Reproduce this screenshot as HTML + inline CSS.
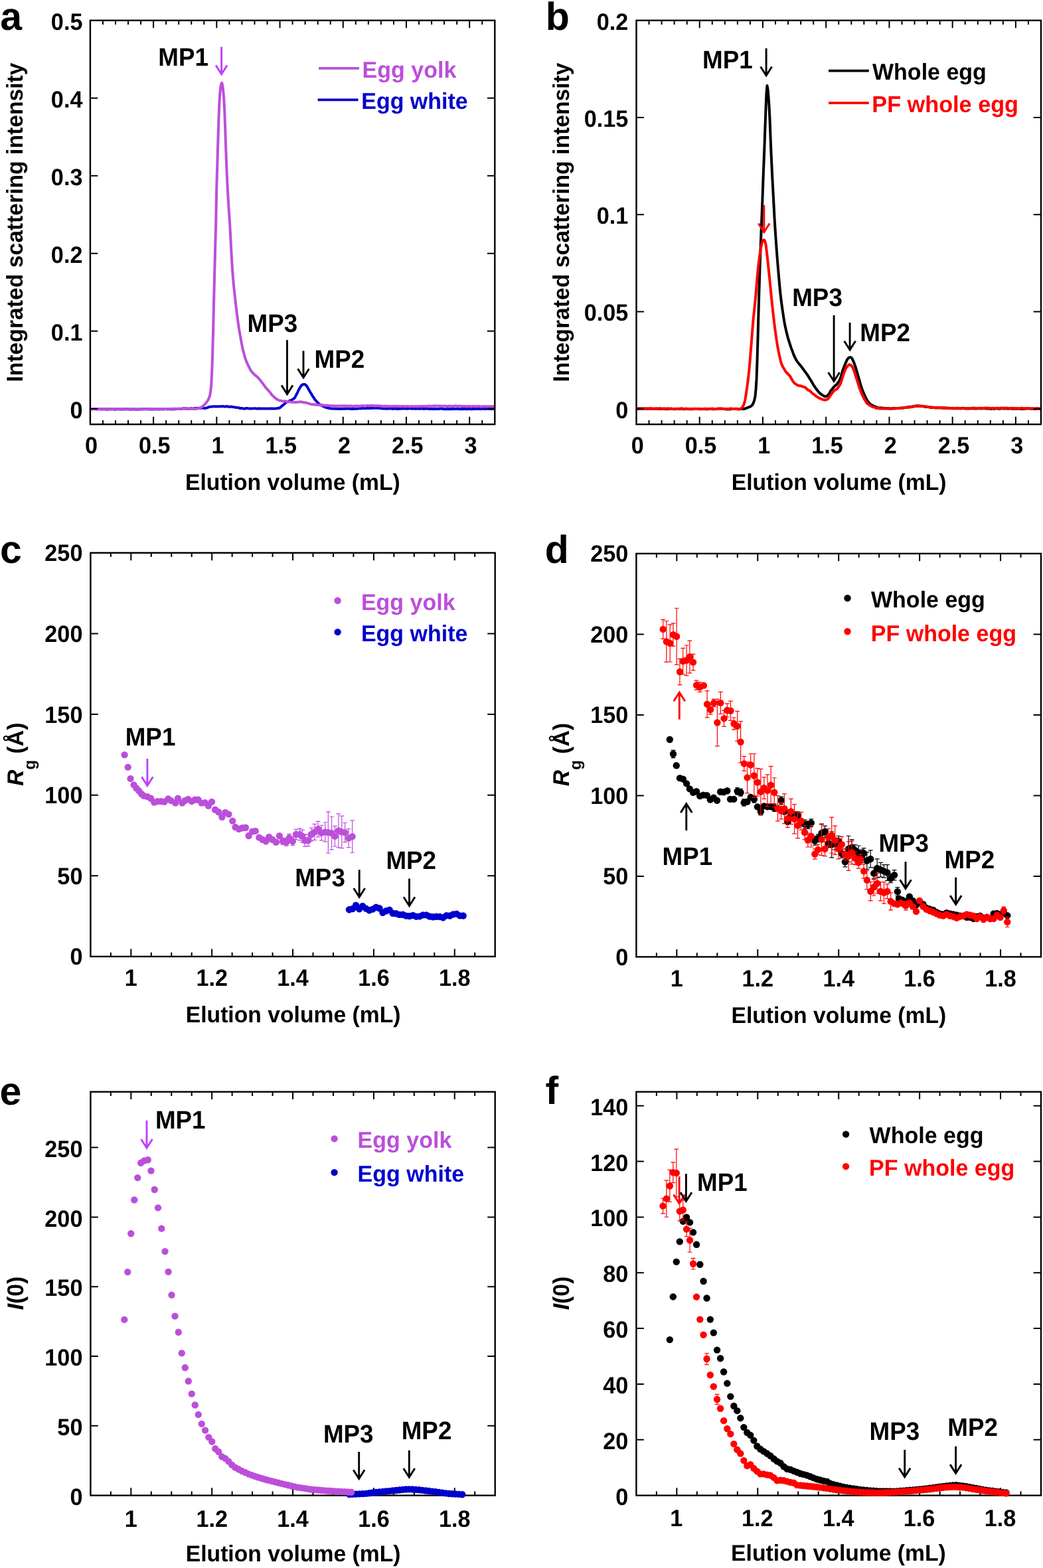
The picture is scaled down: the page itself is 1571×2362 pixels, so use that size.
<!DOCTYPE html>
<html lang="en"><head><meta charset="utf-8"><title>SEC-SAXS of egg fractions</title>
<style>html,body{margin:0;padding:0;background:#fff}svg{display:block}text{font-family:'Liberation Sans', Arial, Helvetica, sans-serif;font-weight:700;text-rendering:geometricPrecision}</style>
</head><body>
<svg width="1571" height="2362" viewBox="0 0 1571 2362">
<rect width="1571" height="2362" fill="#fff"/>
<g id="panel-a">
<polyline points="136.2,616.26 137.2,616.16 138.2,616.23 139.2,616.15 140.2,616.09 141.2,615.97 142.2,616.07 143.2,616.27 144.2,616.23 145.2,616.23 146.2,616.2 147.2,616.36 148.2,616.34 149.2,616.23 150.2,616.23 151.2,616.14 152.2,616.42 153.2,616.46 154.2,616.53 155.2,616.28 156.2,616.22 157.2,616.24 158.2,616.22 159.2,616.44 160.2,616.46 161.2,616.76 162.2,616.43 163.2,616.56 164.2,616.25 165.2,616.3 166.2,616.2 167.2,616.34 168.2,616.18 169.2,616.01 170.2,616.1 171.2,616.54 172.2,616.75 173.2,616.64 174.2,616.51 175.2,616.31 176.2,616.39 177.2,616.18 178.2,616.29 179.2,616.23 180.2,616.45 181.2,616.42 182.2,616.56 183.2,616.46 184.2,616.57 185.2,616.53 186.2,616.37 187.2,616.29 188.2,616.22 189.2,616.32 190.2,616.34 191.2,616.19 192.2,616.33 193.2,616.36 194.2,616.54 195.2,616.73 196.2,616.71 197.2,616.69 198.2,616.37 199.2,616.36 200.2,616.26 201.2,616.46 202.2,616.37 203.2,616.48 204.2,616.55 205.2,616.73 206.2,616.74 207.2,616.68 208.2,616.55 209.2,616.61 210.2,616.47 211.2,616.38 212.2,616.35 213.2,616.44 214.2,616.49 215.2,616.34 216.2,616.19 217.2,615.98 218.2,616.03 219.2,615.97 220.2,616.41 221.2,616.42 222.2,616.37 223.2,616.25 224.2,616.29 225.2,616.44 226.2,616.37 227.2,616.41 228.2,616.36 229.2,616.43 230.2,616.46 231.2,616.45 232.2,616.33 233.2,616.18 234.2,616.25 235.2,616.34 236.2,616.5 237.2,616.53 238.2,616.44 239.2,616.52 240.2,616.44 241.2,616.45 242.2,616.25 243.2,616.28 244.2,616.25 245.2,616.48 246.2,616.51 247.2,616.36 248.2,616.1 249.2,615.92 250.2,616.17 251.2,616.34 252.2,616.43 253.2,616.4 254.2,616.23 255.2,616.31 256.2,616.42 257.2,616.4 258.2,616.23 259.2,616.12 260.2,616.2 261.2,616.38 262.2,616.39 263.2,616.25 264.2,615.96 265.2,615.94 266.2,615.93 267.2,615.97 268.2,615.71 269.2,615.82 270.2,615.92 271.2,616.02 272.2,615.95 273.2,615.82 274.2,615.63 275.2,615.42 276.2,615.33 277.2,615.37 278.2,615.33 279.2,615.41 280.2,615.35 281.2,615.4 282.2,615.43 283.2,615.59 284.2,615.73 285.2,615.65 286.2,615.5 287.2,615.27 288.2,615.34 289.2,615.45 290.2,615.42 291.2,615.37 292.2,615.16 293.2,615.18 294.2,615.1 295.2,615.06 296.2,615.14 297.2,614.95 298.2,614.89 299.2,614.75 300.2,614.76 301.2,614.83 302.2,614.65 303.2,614.72 304.2,614.5 305.2,614.58 306.2,614.58 307.2,614.88 308.2,614.95 309.2,614.98 310.2,614.62 311.2,614.52 312.2,614.09 313.2,613.79 314.2,613.18 315.2,612.97 316.2,612.88 317.2,612.78 318.2,612.63 319.2,612.44 320.2,612.43 321.2,612.38 322.2,612.25 323.2,612.39 324.2,612.23 325.2,612.24 326.2,612.12 327.2,612.39 328.2,612.44 329.2,612.36 330.2,612.25 331.2,612.23 332.2,612.33 333.2,612.27 334.2,612.19 335.2,612.05 336.2,612.11 337.2,612.33 338.2,612.54 339.2,612.5 340.2,612.26 341.2,612 342.2,612.29 343.2,612.45 344.2,612.68 345.2,612.72 346.2,612.75 347.2,612.74 348.2,612.57 349.2,612.63 350.2,612.84 351.2,613.14 352.2,613.21 353.2,613.39 354.2,613.43 355.2,613.81 356.2,613.9 357.2,613.97 358.2,614.09 359.2,614.13 360.2,614.61 361.2,615 362.2,615.23 363.2,615.03 364.2,615.02 365.2,615.05 366.2,615.38 367.2,615.49 368.2,615.7 369.2,615.51 370.2,615.24 371.2,615.02 372.2,615.08 373.2,615.1 374.2,615.31 375.2,615.4 376.2,615.51 377.2,615.37 378.2,615.38 379.2,615.54 380.2,615.4 381.2,615.37 382.2,615.22 383.2,615.35 384.2,615.3 385.2,615.35 386.2,615.62 387.2,615.67 388.2,615.62 389.2,615.32 390.2,615.39 391.2,615.37 392.2,615.48 393.2,615.48 394.2,615.56 395.2,615.53 396.2,615.44 397.2,615.53 398.2,615.56 399.2,615.6 400.2,615.56 401.2,615.53 402.2,615.53 403.2,615.46 404.2,615.61 405.2,615.63 406.2,615.48 407.2,615.35 408.2,615.41 409.2,615.56 410.2,615.54 411.2,615.53 412.2,615.44 413.2,615.49 414.2,615.45 415.2,615.6 416.2,615.41 417.2,615.09 418.2,614.99 419.2,614.82 420.2,614.7 421.2,614.47 422.2,613.85 423.2,612.75 424.2,611.81 425.2,611.04 426.2,610.45 427.2,609.55 428.2,608.53 429.2,607.76 430.2,606.69 431.2,606.01 432.2,605.39 433.2,605.01 434.2,604.75 435.2,604.41 436.2,603.88 437.2,603.32 438.2,602.93 439.2,602.51 440.2,601.97 441.2,601.32 442.2,600.71 443.2,599.99 444.2,598.69 445.2,596.87 446.2,594.88 447.2,593.07 448.2,591.03 449.2,588.8 450.2,586.58 451.2,584.96 452.2,583.19 453.2,581.84 454.2,580.4 455.2,579.79 456.2,579.27 457.2,579 458.2,578.95 459.2,579.09 460.2,579.75 461.2,580.39 462.2,581.7 463.2,583.33 464.2,585.19 465.2,587.13 466.2,588.84 467.2,590.45 468.2,592.16 469.2,593.74 470.2,595.64 471.2,597.04 472.2,598.57 473.2,600.01 474.2,601.7 475.2,602.91 476.2,604.05 477.2,604.9 478.2,606.15 479.2,607.08 480.2,608 481.2,608.81 482.2,609.62 483.2,610.18 484.2,610.62 485.2,611.11 486.2,611.72 487.2,612.19 488.2,612.68 489.2,613.13 490.2,613.51 491.2,613.76 492.2,614.02 493.2,614.42 494.2,614.59 495.2,614.69 496.2,614.95 497.2,615.25 498.2,615.38 499.2,615.35 500.2,615.56 501.2,615.64 502.2,615.56 503.2,615.4 504.2,615.64 505.2,615.7 506.2,615.8 507.2,615.76 508.2,615.91 509.2,615.84 510.2,615.82 511.2,615.79 512.2,615.92 513.2,615.91 514.2,615.92 515.2,615.68 516.2,615.72 517.2,615.7 518.2,615.68 519.2,615.62 520.2,615.66 521.2,615.87 522.2,615.63 523.2,615.54 524.2,615.46 525.2,615.67 526.2,615.52 527.2,615.64 528.2,615.73 529.2,616.01 530.2,615.97 531.2,615.89 532.2,615.91 533.2,615.93 534.2,615.86 535.2,615.74 536.2,615.72 537.2,615.83 538.2,615.8 539.2,615.6 540.2,615.37 541.2,615.29 542.2,615.35 543.2,615.45 544.2,615.19 545.2,615.05 546.2,614.79 547.2,615.05 548.2,615.17 549.2,615.29 550.2,615.24 551.2,615.08 552.2,615.07 553.2,614.97 554.2,615.01 555.2,614.92 556.2,614.98 557.2,615.05 558.2,614.9 559.2,614.73 560.2,614.61 561.2,614.8 562.2,614.67 563.2,614.56 564.2,614.46 565.2,614.79 566.2,614.79 567.2,614.78 568.2,614.62 569.2,614.74 570.2,614.85 571.2,614.92 572.2,614.99 573.2,615.09 574.2,615.2 575.2,615.34 576.2,615.43 577.2,615.36 578.2,615.39 579.2,615.4 580.2,615.61 581.2,615.66 582.2,615.81 583.2,615.66 584.2,615.58 585.2,615.45 586.2,615.47 587.2,615.46 588.2,615.41 589.2,615.43 590.2,615.68 591.2,615.71 592.2,615.91 593.2,615.6 594.2,615.64 595.2,615.43 596.2,615.56 597.2,615.69 598.2,615.95 599.2,616 600.2,615.88 601.2,615.69 602.2,615.65 603.2,615.75 604.2,615.59 605.2,615.52 606.2,615.29 607.2,615.55 608.2,615.46 609.2,615.64 610.2,615.43 611.2,615.45 612.2,615.52 613.2,615.73 614.2,615.75 615.2,615.43 616.2,615.24 617.2,615.39 618.2,615.57 619.2,615.57 620.2,615.57 621.2,615.71 622.2,615.7 623.2,615.64 624.2,615.43 625.2,615.65 626.2,615.68 627.2,615.7 628.2,615.43 629.2,615.5 630.2,615.54 631.2,615.73 632.2,615.65 633.2,615.72 634.2,615.55 635.2,615.49 636.2,615.49 637.2,615.85 638.2,615.97 639.2,615.94 640.2,615.71 641.2,615.62 642.2,615.61 643.2,615.61 644.2,615.69 645.2,615.73 646.2,616.01 647.2,616 648.2,616.12 649.2,615.89 650.2,616 651.2,616.14 652.2,616.14 653.2,615.94 654.2,615.81 655.2,615.88 656.2,615.98 657.2,615.93 658.2,615.96 659.2,616.12 660.2,616.12 661.2,616.04 662.2,615.82 663.2,615.61 664.2,615.57 665.2,615.79 666.2,615.83 667.2,615.95 668.2,615.96 669.2,616.17 670.2,616.32 671.2,616.28 672.2,616.38 673.2,616.17 674.2,616.02 675.2,616.06 676.2,616.15 677.2,616.25 678.2,616 679.2,616.12 680.2,616.16 681.2,616.27 682.2,616.05 683.2,616.01 684.2,615.91 685.2,615.97 686.2,615.99 687.2,615.98 688.2,615.91 689.2,615.95 690.2,615.9 691.2,616.12 692.2,616.2 693.2,616.16 694.2,616.18 695.2,615.95 696.2,616.21 697.2,615.99 698.2,616.15 699.2,615.92 700.2,616.04 701.2,615.97 702.2,616.23 703.2,616.24 704.2,616.14 705.2,616.01 706.2,615.87 707.2,615.97 708.2,616.09 709.2,616.31 710.2,616.31 711.2,616.07 712.2,615.92 713.2,616.11 714.2,616.18 715.2,616.02 716.2,615.68 717.2,615.57 718.2,615.82 719.2,615.92 720.2,615.96 721.2,615.88 722.2,616.01 723.2,616.06 724.2,615.94 725.2,615.86 726.2,615.95 727.2,615.86 728.2,615.7 729.2,615.81 730.2,616.01 731.2,616.18 732.2,615.84 733.2,615.7 734.2,615.63 735.2,615.88 736.2,615.98 737.2,615.84 738.2,615.86 739.2,616.01 740.2,616.25 741.2,615.98 742.2,615.75 743.2,615.63 744.2,615.74 745.2,615.79" fill="none" stroke="#0000CD" stroke-width="4" stroke-linejoin="round" stroke-linecap="butt"/>
<polyline points="136.2,616.39 137.2,616.4 138.2,616.1 139.2,616.04 140.2,616.01 141.2,616.16 142.2,616.14 143.2,616.17 144.2,616.14 145.2,616.08 146.2,616.16 147.2,616.28 148.2,616.54 149.2,616.47 150.2,616.37 151.2,616.18 152.2,616.05 153.2,616.17 154.2,616.12 155.2,616.16 156.2,616.06 157.2,616.28 158.2,616.4 159.2,616.33 160.2,616.15 161.2,616.18 162.2,616.26 163.2,616.26 164.2,616.19 165.2,616.26 166.2,616.49 167.2,616.41 168.2,616.3 169.2,616.07 170.2,615.97 171.2,615.95 172.2,615.93 173.2,616.22 174.2,616.29 175.2,616.24 176.2,616.2 177.2,616.18 178.2,616.17 179.2,616.07 180.2,616.05 181.2,616.13 182.2,616.18 183.2,616.04 184.2,616.09 185.2,616.17 186.2,616.43 187.2,616.55 188.2,616.56 189.2,616.61 190.2,616.42 191.2,616.4 192.2,616.12 193.2,616.17 194.2,615.94 195.2,616.18 196.2,616.34 197.2,616.48 198.2,616.54 199.2,616.38 200.2,616.4 201.2,616.27 202.2,616.24 203.2,616.26 204.2,616.41 205.2,616.41 206.2,616.44 207.2,616.27 208.2,616.5 209.2,616.46 210.2,616.53 211.2,616.43 212.2,616.41 213.2,616.23 214.2,616.29 215.2,616.15 216.2,616.28 217.2,616.21 218.2,616.25 219.2,616.23 220.2,616.27 221.2,616.34 222.2,616.24 223.2,615.9 224.2,615.81 225.2,615.83 226.2,616.02 227.2,616.02 228.2,616.09 229.2,616.08 230.2,616.14 231.2,616.16 232.2,616.13 233.2,616.1 234.2,616.22 235.2,616.35 236.2,616.26 237.2,616.07 238.2,616.03 239.2,616.24 240.2,616.25 241.2,616.15 242.2,615.97 243.2,616.01 244.2,616.07 245.2,616.08 246.2,616 247.2,615.93 248.2,616.03 249.2,615.98 250.2,616.04 251.2,616.04 252.2,616.13 253.2,616.01 254.2,616.04 255.2,615.92 256.2,616.01 257.2,615.82 258.2,615.72 259.2,615.68 260.2,615.75 261.2,615.87 262.2,615.86 263.2,615.76 264.2,615.69 265.2,615.63 266.2,615.83 267.2,615.94 268.2,615.9 269.2,615.77 270.2,615.65 271.2,615.64 272.2,615.65 273.2,615.63 274.2,615.52 275.2,615.36 276.2,615.41 277.2,615.55 278.2,615.72 279.2,615.66 280.2,615.7 281.2,615.64 282.2,615.7 283.2,615.72 284.2,615.75 285.2,615.71 286.2,615.76 287.2,615.64 288.2,615.74 289.2,615.68 290.2,615.84 291.2,615.8 292.2,615.82 293.2,615.79 294.2,615.94 295.2,615.88 296.2,615.85 297.2,615.6 298.2,615.32 299.2,615.25 300.2,614.94 301.2,614.57 302.2,614.02 303.2,613.37 304.2,612.84 305.2,612.03 306.2,611.25 307.2,610.33 308.2,609.3 309.2,608.33 310.2,607.09 311.2,605.75 312.2,604.28 313.2,602.85 314.2,601.05 315.2,598.69 316.2,595.3 317.2,589.68 318.2,579.89 319.2,560.58 320.2,531.83 321.2,493.49 322.2,450.1 323.2,410.27 324.2,371.56 325.2,337.66 326.2,283.53 327.2,251.84 328.2,218.29 329.2,186.42 330.2,158.49 331.2,142.26 332.2,132.15 333.2,126.54 334.2,124.72 335.2,128.41 336.2,136.4 337.2,147.86 338.2,166.46 339.2,193.6 340.2,222.98 341.2,249.91 342.2,272.19 343.2,291.74 344.2,308.21 345.2,322.58 346.2,337.94 347.2,356.49 348.2,375.93 349.2,393.35 350.2,408.91 351.2,421.44 352.2,431.82 353.2,441.15 354.2,450.23 355.2,459.06 356.2,467.4 357.2,475.26 358.2,482.92 359.2,489.9 360.2,496.57 361.2,502.24 362.2,507.92 363.2,513.26 364.2,518.71 365.2,523.68 366.2,528.05 367.2,531.98 368.2,535.53 369.2,538.98 370.2,541.97 371.2,544.68 372.2,546.93 373.2,549.25 374.2,551.24 375.2,553.19 376.2,555.18 377.2,557.04 378.2,558.63 379.2,559.89 380.2,561.16 381.2,562.23 382.2,563.29 383.2,564.15 384.2,565.04 385.2,565.97 386.2,566.67 387.2,567.58 388.2,568.44 389.2,569.58 390.2,570.68 391.2,571.74 392.2,572.94 393.2,574.4 394.2,575.76 395.2,577.07 396.2,578.28 397.2,579.57 398.2,581.02 399.2,582.29 400.2,583.75 401.2,584.8 402.2,586.02 403.2,587.06 404.2,588.22 405.2,589.39 406.2,590.46 407.2,591.89 408.2,593.09 409.2,594.46 410.2,595.52 411.2,596.66 412.2,597.42 413.2,598.34 414.2,599.09 415.2,600.08 416.2,600.8 417.2,601.51 418.2,601.9 419.2,602.48 420.2,603 421.2,603.38 422.2,603.51 423.2,603.58 424.2,603.9 425.2,604.24 426.2,604.28 427.2,604.27 428.2,604.16 429.2,604.29 430.2,604.32 431.2,604.56 432.2,604.67 433.2,605.05 434.2,605.22 435.2,605.36 436.2,605.28 437.2,605.29 438.2,605.61 439.2,605.73 440.2,605.75 441.2,605.69 442.2,605.83 443.2,605.9 444.2,606.01 445.2,605.96 446.2,606 447.2,605.73 448.2,605.65 449.2,605.55 450.2,605.38 451.2,605.38 452.2,605.23 453.2,605.44 454.2,605.36 455.2,605.78 456.2,605.95 457.2,606.3 458.2,606.39 459.2,606.44 460.2,606.37 461.2,606.45 462.2,606.83 463.2,607.26 464.2,607.63 465.2,607.94 466.2,608.13 467.2,608.4 468.2,608.79 469.2,609.13 470.2,609.15 471.2,609.12 472.2,609.23 473.2,609.53 474.2,609.55 475.2,609.67 476.2,609.51 477.2,609.71 478.2,609.89 479.2,610.24 480.2,610.1 481.2,610.05 482.2,609.75 483.2,609.96 484.2,610 485.2,610.24 486.2,610.33 487.2,610.42 488.2,610.66 489.2,610.73 490.2,610.82 491.2,610.66 492.2,610.62 493.2,610.64 494.2,610.89 495.2,611.06 496.2,611.28 497.2,611.23 498.2,611.26 499.2,611.19 500.2,611.27 501.2,611.35 502.2,611.31 503.2,611.47 504.2,611.42 505.2,611.58 506.2,611.48 507.2,611.65 508.2,611.46 509.2,611.53 510.2,611.38 511.2,611.54 512.2,611.61 513.2,611.57 514.2,611.45 515.2,611.28 516.2,611.41 517.2,611.38 518.2,611.48 519.2,611.36 520.2,611.43 521.2,611.4 522.2,611.55 523.2,611.6 524.2,611.59 525.2,611.56 526.2,611.6 527.2,611.42 528.2,611.38 529.2,611.41 530.2,611.72 531.2,611.92 532.2,611.96 533.2,611.86 534.2,611.59 535.2,611.53 536.2,611.56 537.2,611.72 538.2,611.62 539.2,611.54 540.2,611.48 541.2,611.68 542.2,611.65 543.2,611.51 544.2,611.26 545.2,611.18 546.2,611.15 547.2,611.24 548.2,611.34 549.2,611.42 550.2,611.43 551.2,611.28 552.2,611.24 553.2,611.09 554.2,611.12 555.2,611.18 556.2,611.2 557.2,611.04 558.2,610.92 559.2,610.86 560.2,610.9 561.2,610.88 562.2,611.03 563.2,611.32 564.2,611.37 565.2,611.4 566.2,611.39 567.2,611.36 568.2,611.31 569.2,611.24 570.2,611.39 571.2,611.29 572.2,611.3 573.2,611.41 574.2,611.68 575.2,611.89 576.2,611.81 577.2,611.88 578.2,611.81 579.2,611.75 580.2,611.68 581.2,611.61 582.2,611.78 583.2,611.73 584.2,611.88 585.2,611.88 586.2,611.88 587.2,611.88 588.2,611.9 589.2,611.9 590.2,611.95 591.2,611.91 592.2,611.91 593.2,611.78 594.2,611.71 595.2,611.73 596.2,611.95 597.2,612.01 598.2,612.07 599.2,611.84 600.2,611.88 601.2,612.02 602.2,612.21 603.2,612.22 604.2,612.11 605.2,611.98 606.2,611.98 607.2,611.91 608.2,611.92 609.2,612.02 610.2,612.15 611.2,612.28 612.2,612.25 613.2,612.09 614.2,612.05 615.2,611.99 616.2,612.18 617.2,612.24 618.2,612.38 619.2,612.28 620.2,612.08 621.2,612.1 622.2,612.23 623.2,612.25 624.2,612.17 625.2,612.16 626.2,612.18 627.2,612.31 628.2,612.16 629.2,612.15 630.2,612.1 631.2,612.13 632.2,612.15 633.2,612.09 634.2,611.88 635.2,612.07 636.2,611.9 637.2,612.07 638.2,611.86 639.2,611.94 640.2,611.97 641.2,611.91 642.2,611.92 643.2,611.8 644.2,611.79 645.2,611.69 646.2,611.61 647.2,611.58 648.2,611.65 649.2,611.71 650.2,611.85 651.2,611.79 652.2,611.71 653.2,611.44 654.2,611.33 655.2,611.43 656.2,611.58 657.2,611.56 658.2,611.62 659.2,611.47 660.2,611.43 661.2,611.36 662.2,611.69 663.2,611.83 664.2,611.74 665.2,611.62 666.2,611.64 667.2,611.81 668.2,611.74 669.2,611.62 670.2,611.56 671.2,611.64 672.2,611.85 673.2,612.03 674.2,611.94 675.2,611.78 676.2,611.61 677.2,611.66 678.2,611.76 679.2,611.82 680.2,611.87 681.2,611.96 682.2,611.92 683.2,611.82 684.2,611.6 685.2,611.54 686.2,611.55 687.2,611.54 688.2,611.69 689.2,611.81 690.2,611.94 691.2,611.82 692.2,611.69 693.2,611.66 694.2,611.9 695.2,611.85 696.2,611.95 697.2,611.87 698.2,612.07 699.2,612.04 700.2,612.05 701.2,611.95 702.2,612.03 703.2,612.09 704.2,612.1 705.2,612 706.2,611.89 707.2,612.07 708.2,612.25 709.2,612.31 710.2,612.17 711.2,611.97 712.2,611.94 713.2,612.04 714.2,612.05 715.2,612.04 716.2,612.04 717.2,612.22 718.2,612.14 719.2,612.16 720.2,611.98 721.2,612.03 722.2,611.98 723.2,612.21 724.2,612.53 725.2,612.56 726.2,612.48 727.2,612.29 728.2,612.16 729.2,612.19 730.2,612.01 731.2,612.26 732.2,612.32 733.2,612.47 734.2,612.27 735.2,612.29 736.2,612.27 737.2,612.35 738.2,612.26 739.2,612.1 740.2,612.13 741.2,612.17 742.2,612.34 743.2,612.32 744.2,612.16 745.2,612.13" fill="none" stroke="#BB4FDA" stroke-width="4" stroke-linejoin="round" stroke-linecap="butt"/>
<path d="M154.94 639.2v-6.2M154.94 30.75v6.2M173.99 639.2v-6.2M173.99 30.75v6.2M193.03 639.2v-6.2M193.03 30.75v6.2M212.07 639.2v-6.2M212.07 30.75v6.2M250.16 639.2v-6.2M250.16 30.75v6.2M269.21 639.2v-6.2M269.21 30.75v6.2M288.25 639.2v-6.2M288.25 30.75v6.2M307.29 639.2v-6.2M307.29 30.75v6.2M345.38 639.2v-6.2M345.38 30.75v6.2M364.42 639.2v-6.2M364.42 30.75v6.2M383.47 639.2v-6.2M383.47 30.75v6.2M402.51 639.2v-6.2M402.51 30.75v6.2M440.6 639.2v-6.2M440.6 30.75v6.2M459.64 639.2v-6.2M459.64 30.75v6.2M478.69 639.2v-6.2M478.69 30.75v6.2M497.73 639.2v-6.2M497.73 30.75v6.2M535.82 639.2v-6.2M535.82 30.75v6.2M554.86 639.2v-6.2M554.86 30.75v6.2M573.91 639.2v-6.2M573.91 30.75v6.2M592.95 639.2v-6.2M592.95 30.75v6.2M631.04 639.2v-6.2M631.04 30.75v6.2M650.08 639.2v-6.2M650.08 30.75v6.2M669.12 639.2v-6.2M669.12 30.75v6.2M688.17 639.2v-6.2M688.17 30.75v6.2M726.26 639.2v-6.2M726.26 30.75v6.2M231.12 639.2v-11.4M231.12 30.75v11.4M326.34 639.2v-11.4M326.34 30.75v11.4M421.56 639.2v-11.4M421.56 30.75v11.4M516.77 639.2v-11.4M516.77 30.75v11.4M611.99 639.2v-11.4M611.99 30.75v11.4M707.21 639.2v-11.4M707.21 30.75v11.4M135.9 615.8h11.4M745.3 615.8h-11.4M135.9 498.79h11.4M745.3 498.79h-11.4M135.9 381.78h11.4M745.3 381.78h-11.4M135.9 264.77h11.4M745.3 264.77h-11.4M135.9 147.76h11.4M745.3 147.76h-11.4" stroke="#000" stroke-width="2.0" fill="none"/>
<rect x="135.9" y="30.75" width="609.4" height="608.45" fill="none" stroke="#000" stroke-width="2.4"/>
<g font-size="34.2" text-anchor="middle">
<text transform="translate(137.6 683.3) scale(1 1.041)">0</text>
<text transform="translate(232.82 683.3) scale(1 1.041)">0.5</text>
<text transform="translate(328.04 683.3) scale(1 1.041)">1</text>
<text transform="translate(423.26 683.3) scale(1 1.041)">1.5</text>
<text transform="translate(518.48 683.3) scale(1 1.041)">2</text>
<text transform="translate(613.69 683.3) scale(1 1.041)">2.5</text>
<text transform="translate(708.91 683.3) scale(1 1.041)">3</text>
</g>
<g font-size="34.2" text-anchor="end">
<text transform="translate(124.4 629.7) scale(1 1.041)">0</text>
<text transform="translate(124.4 512.69) scale(1 1.041)">0.1</text>
<text transform="translate(124.4 395.68) scale(1 1.041)">0.2</text>
<text transform="translate(124.4 278.67) scale(1 1.041)">0.3</text>
<text transform="translate(124.4 161.66) scale(1 1.041)">0.4</text>
<text transform="translate(124.4 44.65) scale(1 1.041)">0.5</text>
</g>
<text transform="translate(440.85 738.2) scale(1 1.02)" font-size="33.7" text-anchor="middle">Elution volume (mL)</text>
<text transform="translate(34.4 335) rotate(-90) scale(1 1.02)" font-size="33.7" text-anchor="middle">Integrated scattering intensity</text>
<text transform="translate(0.2 45) scale(1 1)" font-size="59" fill="#000000" text-anchor="start">a</text>
<text transform="translate(238.3 98.6) scale(1 1.041)" font-size="36.8" fill="#000000" text-anchor="start">MP1</text>
<path d="M333.6 70.4V111.7M325.1 98.4L333.6 111.7L342.1 98.4" stroke="#BF40FF" stroke-width="2.9" fill="none" stroke-linejoin="miter" stroke-miterlimit="10"/>
<text transform="translate(372.6 499.7) scale(1 1.041)" font-size="36.8" fill="#000000" text-anchor="start">MP3</text>
<path d="M432.5 512.2V593.7M424 580.4L432.5 593.7L441 580.4" stroke="#000000" stroke-width="2.9" fill="none" stroke-linejoin="miter" stroke-miterlimit="10"/>
<path d="M457 528.4V568.8M448.5 555.5L457 568.8L465.5 555.5" stroke="#000000" stroke-width="2.9" fill="none" stroke-linejoin="miter" stroke-miterlimit="10"/>
<text transform="translate(473.5 554) scale(1 1.041)" font-size="36.8" fill="#000000" text-anchor="start">MP2</text>
<path d="M480 102.9H541" stroke="#BB4FDA" stroke-width="3.8"/>
<text transform="translate(545.6 116.9) scale(1 1.02)" font-size="34" fill="#BB4FDA" text-anchor="start">Egg yolk</text>
<path d="M478.6 150.4H539.5" stroke="#0000CD" stroke-width="3.8"/>
<text transform="translate(544.2 164.1) scale(1 1.02)" font-size="34" fill="#0000CD" text-anchor="start">Egg white</text>
</g>
<g id="panel-b">
<polyline points="958.5,615.61 959.5,615.9 960.5,615.83 961.5,615.88 962.5,615.79 963.5,615.72 964.5,615.64 965.5,615.48 966.5,615.55 967.5,615.49 968.5,615.45 969.5,615.45 970.5,615.66 971.5,615.5 972.5,615.46 973.5,615.53 974.5,615.95 975.5,615.86 976.5,615.8 977.5,615.48 978.5,615.56 979.5,615.39 980.5,615.46 981.5,615.68 982.5,615.87 983.5,615.93 984.5,615.77 985.5,615.7 986.5,615.68 987.5,615.82 988.5,615.75 989.5,615.77 990.5,615.67 991.5,615.74 992.5,615.78 993.5,615.82 994.5,615.98 995.5,615.95 996.5,616.11 997.5,615.92 998.5,615.88 999.5,615.72 1000.5,615.8 1001.5,615.89 1002.5,616.04 1003.5,616.13 1004.5,616.16 1005.5,615.98 1006.5,615.84 1007.5,615.95 1008.5,616.02 1009.5,615.89 1010.5,615.65 1011.5,615.56 1012.5,615.85 1013.5,615.93 1014.5,616.26 1015.5,616.21 1016.5,616.25 1017.5,615.94 1018.5,615.98 1019.5,615.94 1020.5,615.9 1021.5,615.86 1022.5,615.9 1023.5,616.14 1024.5,616.07 1025.5,615.74 1026.5,615.7 1027.5,615.49 1028.5,616.01 1029.5,616.14 1030.5,616.31 1031.5,616 1032.5,615.63 1033.5,615.78 1034.5,615.9 1035.5,616 1036.5,615.87 1037.5,616.14 1038.5,616.26 1039.5,616.37 1040.5,616.22 1041.5,616.31 1042.5,616.34 1043.5,616.17 1044.5,616.03 1045.5,615.82 1046.5,615.82 1047.5,615.98 1048.5,616.01 1049.5,616.09 1050.5,615.87 1051.5,615.86 1052.5,615.96 1053.5,615.99 1054.5,616 1055.5,615.97 1056.5,616.08 1057.5,616.23 1058.5,616.19 1059.5,615.93 1060.5,615.91 1061.5,615.95 1062.5,616.27 1063.5,616.1 1064.5,616.33 1065.5,616.07 1066.5,616.26 1067.5,615.97 1068.5,616.05 1069.5,616.06 1070.5,616.03 1071.5,615.81 1072.5,615.58 1073.5,615.67 1074.5,616.2 1075.5,616.16 1076.5,616.11 1077.5,616.01 1078.5,616.26 1079.5,616.22 1080.5,615.88 1081.5,615.6 1082.5,615.56 1083.5,615.68 1084.5,615.63 1085.5,615.52 1086.5,615.6 1087.5,615.81 1088.5,615.92 1089.5,615.84 1090.5,615.79 1091.5,615.99 1092.5,616.23 1093.5,616.56 1094.5,616.54 1095.5,616.43 1096.5,616.36 1097.5,616.48 1098.5,616.56 1099.5,616.54 1100.5,616.26 1101.5,615.9 1102.5,615.86 1103.5,615.93 1104.5,616.11 1105.5,615.9 1106.5,615.76 1107.5,615.93 1108.5,616.09 1109.5,616.11 1110.5,616 1111.5,615.98 1112.5,616.16 1113.5,616.38 1114.5,616.34 1115.5,616.13 1116.5,615.87 1117.5,615.8 1118.5,616.01 1119.5,616.01 1120.5,616.01 1121.5,615.69 1122.5,615.44 1123.5,615.02 1124.5,614.79 1125.5,614.33 1126.5,613.89 1127.5,613.5 1128.5,613.03 1129.5,612.83 1130.5,612.24 1131.5,611.67 1132.5,610.67 1133.5,609.52 1134.5,607.51 1135.5,605.24 1136.5,601.89 1137.5,596.84 1138.5,586.5 1139.5,571.91 1140.5,543.55 1141.5,509.55 1142.5,470.41 1143.5,435.34 1144.5,404.55 1145.5,375.95 1146.5,350.16 1147.5,325.77 1148.5,298.06 1149.5,269.58 1150.5,244.59 1151.5,219.4 1152.5,190.5 1153.5,162.78 1154.5,139.6 1155.5,129.03 1156.5,134.47 1157.5,145.36 1158.5,160.22 1159.5,179.34 1160.5,206.1 1161.5,230.36 1162.5,251.52 1163.5,271.32 1164.5,289.74 1165.5,308.71 1166.5,327.75 1167.5,344.2 1168.5,359.14 1169.5,372.81 1170.5,386.13 1171.5,398.63 1172.5,410.46 1173.5,421.84 1174.5,433.1 1175.5,442.94 1176.5,451.49 1177.5,459.02 1178.5,466.11 1179.5,472.94 1180.5,479.53 1181.5,485.52 1182.5,490.88 1183.5,495.38 1184.5,499.73 1185.5,503.82 1186.5,507.66 1187.5,511.18 1188.5,514.35 1189.5,517.44 1190.5,520.58 1191.5,523.57 1192.5,526.35 1193.5,528.78 1194.5,531.64 1195.5,534.14 1196.5,536.68 1197.5,538.73 1198.5,540.79 1199.5,542.61 1200.5,544.07 1201.5,545.44 1202.5,546.71 1203.5,547.91 1204.5,549.16 1205.5,550.33 1206.5,551.74 1207.5,552.9 1208.5,554.28 1209.5,555.56 1210.5,557 1211.5,558.38 1212.5,559.76 1213.5,561.05 1214.5,562.51 1215.5,563.79 1216.5,565.32 1217.5,566.82 1218.5,568.5 1219.5,570.21 1220.5,571.65 1221.5,573.25 1222.5,574.84 1223.5,576.66 1224.5,578.54 1225.5,580.13 1226.5,581.71 1227.5,583.2 1228.5,584.71 1229.5,585.88 1230.5,587.07 1231.5,588.46 1232.5,589.68 1233.5,590.94 1234.5,591.75 1235.5,592.94 1236.5,593.66 1237.5,594.54 1238.5,594.91 1239.5,595.61 1240.5,596.21 1241.5,596.73 1242.5,597.25 1243.5,597.26 1244.5,597.35 1245.5,596.38 1246.5,595.78 1247.5,594.74 1248.5,593.81 1249.5,591.8 1250.5,589.88 1251.5,588.38 1252.5,587.08 1253.5,585.98 1254.5,584.58 1255.5,583.5 1256.5,582.2 1257.5,581.22 1258.5,580.55 1259.5,579.78 1260.5,578.82 1261.5,577.36 1262.5,576.1 1263.5,574.72 1264.5,572.85 1265.5,570.55 1266.5,567.9 1267.5,564.63 1268.5,561.11 1269.5,557.66 1270.5,554.83 1271.5,552.14 1272.5,549.5 1273.5,547.33 1274.5,545.03 1275.5,542.93 1276.5,540.99 1277.5,539.87 1278.5,538.99 1279.5,538.35 1280.5,538.19 1281.5,538.27 1282.5,539.08 1283.5,540.24 1284.5,542.27 1285.5,544.5 1286.5,546.88 1287.5,549.59 1288.5,552.55 1289.5,555.78 1290.5,559.27 1291.5,562.72 1292.5,566.28 1293.5,569.61 1294.5,573.34 1295.5,576.81 1296.5,580.19 1297.5,583.46 1298.5,586.26 1299.5,589.06 1300.5,591.28 1301.5,593.72 1302.5,595.85 1303.5,597.84 1304.5,599.97 1305.5,601.79 1306.5,603.76 1307.5,604.88 1308.5,606.14 1309.5,607.33 1310.5,608.44 1311.5,609.15 1312.5,609.74 1313.5,610.43 1314.5,611.08 1315.5,611.49 1316.5,611.85 1317.5,612.34 1318.5,612.7 1319.5,613.03 1320.5,613.41 1321.5,613.73 1322.5,614.39 1323.5,614.48 1324.5,614.58 1325.5,614.31 1326.5,614.46 1327.5,614.54 1328.5,614.53 1329.5,614.74 1330.5,614.74 1331.5,615.13 1332.5,615.01 1333.5,615.08 1334.5,615.14 1335.5,615.14 1336.5,615.19 1337.5,615.03 1338.5,615.23 1339.5,615.45 1340.5,615.56 1341.5,615.63 1342.5,615.58 1343.5,615.53 1344.5,615.29 1345.5,615.08 1346.5,615 1347.5,615.19 1348.5,615.12 1349.5,615.25 1350.5,615.05 1351.5,615.09 1352.5,614.88 1353.5,614.99 1354.5,614.96 1355.5,614.97 1356.5,614.81 1357.5,614.69 1358.5,614.59 1359.5,614.43 1360.5,614.39 1361.5,614.3 1362.5,614.1 1363.5,613.99 1364.5,613.66 1365.5,613.65 1366.5,613.56 1367.5,613.54 1368.5,613.26 1369.5,613.04 1370.5,612.87 1371.5,612.91 1372.5,612.78 1373.5,612.83 1374.5,612.57 1375.5,612.47 1376.5,611.95 1377.5,611.95 1378.5,611.6 1379.5,611.67 1380.5,611.56 1381.5,611.67 1382.5,611.53 1383.5,611.37 1384.5,611.57 1385.5,611.89 1386.5,612.07 1387.5,611.95 1388.5,611.84 1389.5,611.92 1390.5,612.03 1391.5,612.21 1392.5,612.58 1393.5,612.72 1394.5,612.99 1395.5,612.72 1396.5,612.92 1397.5,612.89 1398.5,612.94 1399.5,613.08 1400.5,613.35 1401.5,613.72 1402.5,613.92 1403.5,613.78 1404.5,613.77 1405.5,613.79 1406.5,614.03 1407.5,614.26 1408.5,614.17 1409.5,614.34 1410.5,614.19 1411.5,614.33 1412.5,614.03 1413.5,614.11 1414.5,614.15 1415.5,614.19 1416.5,614.21 1417.5,614.29 1418.5,614.43 1419.5,614.59 1420.5,614.5 1421.5,614.69 1422.5,614.61 1423.5,614.81 1424.5,614.52 1425.5,614.59 1426.5,614.58 1427.5,614.93 1428.5,614.81 1429.5,615 1430.5,614.8 1431.5,615.12 1432.5,615.05 1433.5,615.12 1434.5,615.24 1435.5,615.06 1436.5,615.15 1437.5,614.94 1438.5,615.16 1439.5,615.23 1440.5,615.31 1441.5,615.32 1442.5,615.32 1443.5,615.13 1444.5,615.05 1445.5,615.17 1446.5,615.15 1447.5,615.21 1448.5,614.88 1449.5,614.94 1450.5,614.75 1451.5,615.14 1452.5,615.02 1453.5,615.19 1454.5,615.13 1455.5,615.42 1456.5,615.55 1457.5,615.59 1458.5,615.58 1459.5,615.59 1460.5,615.47 1461.5,615.41 1462.5,615.12 1463.5,615.15 1464.5,615.3 1465.5,615.42 1466.5,615.27 1467.5,615.14 1468.5,615.36 1469.5,615.64 1470.5,615.46 1471.5,615.38 1472.5,615.17 1473.5,615.38 1474.5,615.07 1475.5,615.26 1476.5,615.18 1477.5,615.47 1478.5,615.35 1479.5,615.28 1480.5,615.32 1481.5,615.29 1482.5,615.34 1483.5,615.36 1484.5,615.41 1485.5,615.41 1486.5,615.44 1487.5,615.39 1488.5,615.47 1489.5,615.45 1490.5,615.63 1491.5,615.78 1492.5,615.89 1493.5,615.79 1494.5,615.56 1495.5,615.56 1496.5,615.72 1497.5,615.79 1498.5,615.68 1499.5,615.47 1500.5,615.33 1501.5,615.37 1502.5,615.46 1503.5,615.66 1504.5,615.74 1505.5,615.87 1506.5,615.79 1507.5,615.46 1508.5,615.08 1509.5,615.16 1510.5,615.24 1511.5,615.51 1512.5,615.52 1513.5,615.49 1514.5,615.4 1515.5,615.22 1516.5,615.45 1517.5,615.44 1518.5,615.69 1519.5,615.48 1520.5,615.55 1521.5,615.56 1522.5,615.61 1523.5,615.51 1524.5,615.71 1525.5,615.73 1526.5,615.89 1527.5,615.62 1528.5,615.56 1529.5,615.65 1530.5,615.71 1531.5,615.85 1532.5,615.44 1533.5,615.43 1534.5,615.5 1535.5,615.8 1536.5,615.76 1537.5,615.81 1538.5,615.81 1539.5,615.91 1540.5,615.9 1541.5,615.99 1542.5,615.78 1543.5,615.71 1544.5,615.51 1545.5,615.44 1546.5,615.45 1547.5,615.34 1548.5,615.54 1549.5,615.22 1550.5,615.32 1551.5,615.33 1552.5,615.63 1553.5,615.7 1554.5,615.66 1555.5,615.56 1556.5,615.82 1557.5,615.88 1558.5,615.99 1559.5,616.04 1560.5,615.91 1561.5,615.69 1562.5,615.36 1563.5,615.53 1564.5,615.65 1565.5,615.78 1566.5,615.83 1567.5,615.98" fill="none" stroke="#000000" stroke-width="4" stroke-linejoin="round" stroke-linecap="butt"/>
<polyline points="958.5,615.45 959.5,615.48 960.5,615.41 961.5,615.04 962.5,615.13 963.5,615.37 964.5,615.48 965.5,615.57 966.5,615.39 967.5,615.88 968.5,615.76 969.5,615.78 970.5,615.62 971.5,615.57 972.5,615.63 973.5,615.49 974.5,615.47 975.5,615.53 976.5,615.62 977.5,615.69 978.5,615.83 979.5,615.58 980.5,615.49 981.5,615.38 982.5,615.41 983.5,615.65 984.5,615.64 985.5,615.76 986.5,615.65 987.5,615.5 988.5,615.35 989.5,615.4 990.5,615.58 991.5,615.77 992.5,615.68 993.5,615.32 994.5,615.22 995.5,615.17 996.5,615.45 997.5,615.72 998.5,615.72 999.5,615.61 1000.5,615.56 1001.5,615.62 1002.5,615.55 1003.5,615.59 1004.5,615.51 1005.5,615.62 1006.5,615.36 1007.5,615.51 1008.5,615.71 1009.5,615.8 1010.5,615.82 1011.5,615.65 1012.5,615.97 1013.5,616.11 1014.5,616.11 1015.5,615.91 1016.5,615.85 1017.5,615.98 1018.5,615.85 1019.5,615.73 1020.5,615.77 1021.5,615.93 1022.5,615.86 1023.5,615.84 1024.5,615.68 1025.5,615.54 1026.5,615.52 1027.5,615.76 1028.5,616.07 1029.5,616.23 1030.5,616.33 1031.5,616.33 1032.5,616.1 1033.5,615.9 1034.5,615.69 1035.5,615.77 1036.5,615.78 1037.5,615.97 1038.5,616.11 1039.5,615.88 1040.5,615.96 1041.5,615.77 1042.5,616.12 1043.5,616.06 1044.5,616 1045.5,616.01 1046.5,615.91 1047.5,616.09 1048.5,615.93 1049.5,615.96 1050.5,615.91 1051.5,616.2 1052.5,616.34 1053.5,616.32 1054.5,616.29 1055.5,616.22 1056.5,616.18 1057.5,615.88 1058.5,615.89 1059.5,615.94 1060.5,615.97 1061.5,615.73 1062.5,615.7 1063.5,615.79 1064.5,615.97 1065.5,615.88 1066.5,615.74 1067.5,615.73 1068.5,616 1069.5,616.14 1070.5,616.01 1071.5,615.92 1072.5,615.85 1073.5,616.32 1074.5,616.2 1075.5,616.25 1076.5,616 1077.5,616.07 1078.5,616.08 1079.5,616.07 1080.5,616.01 1081.5,615.94 1082.5,615.89 1083.5,615.77 1084.5,615.78 1085.5,615.74 1086.5,615.83 1087.5,615.84 1088.5,615.9 1089.5,616 1090.5,616.02 1091.5,616.05 1092.5,616.03 1093.5,616.03 1094.5,616 1095.5,616.01 1096.5,615.85 1097.5,615.94 1098.5,615.84 1099.5,615.61 1100.5,615.6 1101.5,615.51 1102.5,616.05 1103.5,615.87 1104.5,615.98 1105.5,615.96 1106.5,615.98 1107.5,615.89 1108.5,615.8 1109.5,616.05 1110.5,616.3 1111.5,616.47 1112.5,616.36 1113.5,616.29 1114.5,616.15 1115.5,615.76 1116.5,614.96 1117.5,614.13 1118.5,612.9 1119.5,611.17 1120.5,608.79 1121.5,606.01 1122.5,601.65 1123.5,595.33 1124.5,588.49 1125.5,581.53 1126.5,573.95 1127.5,565.62 1128.5,556.05 1129.5,544.71 1130.5,532.44 1131.5,520.03 1132.5,507.07 1133.5,494.35 1134.5,482.71 1135.5,472.7 1136.5,463.12 1137.5,453.6 1138.5,442.84 1139.5,430.87 1140.5,418.71 1141.5,408.01 1142.5,398.98 1143.5,390.97 1144.5,383.64 1145.5,376.68 1146.5,370.93 1147.5,366.89 1148.5,364.04 1149.5,362.25 1150.5,361.38 1151.5,361.81 1152.5,364.32 1153.5,368.58 1154.5,376.23 1155.5,384.75 1156.5,393.88 1157.5,403.51 1158.5,413.22 1159.5,423.08 1160.5,433.42 1161.5,443.5 1162.5,453.81 1163.5,462.83 1164.5,471.97 1165.5,480.49 1166.5,488.96 1167.5,496.53 1168.5,503.94 1169.5,511.08 1170.5,517.6 1171.5,523.32 1172.5,528.65 1173.5,533.55 1174.5,538.18 1175.5,542.46 1176.5,546.29 1177.5,549.19 1178.5,551.3 1179.5,553.1 1180.5,554.74 1181.5,556.52 1182.5,558.27 1183.5,559.73 1184.5,560.95 1185.5,562 1186.5,563.09 1187.5,564.15 1188.5,564.98 1189.5,566.05 1190.5,567.54 1191.5,569.56 1192.5,571.4 1193.5,572.82 1194.5,574.41 1195.5,575.71 1196.5,577.04 1197.5,577.81 1198.5,578.52 1199.5,579.15 1200.5,579.71 1201.5,580.3 1202.5,580.71 1203.5,580.94 1204.5,581.02 1205.5,581.29 1206.5,581.48 1207.5,581.88 1208.5,582 1209.5,582.6 1210.5,582.85 1211.5,583.12 1212.5,583.37 1213.5,584.2 1214.5,585.32 1215.5,586.27 1216.5,586.91 1217.5,587.63 1218.5,588.11 1219.5,588.8 1220.5,589.34 1221.5,590.36 1222.5,591.39 1223.5,592.33 1224.5,593.14 1225.5,593.77 1226.5,594.54 1227.5,595.28 1228.5,596.24 1229.5,597.02 1230.5,597.72 1231.5,598.3 1232.5,598.92 1233.5,599.34 1234.5,599.94 1235.5,600.33 1236.5,600.9 1237.5,601.14 1238.5,601.63 1239.5,601.91 1240.5,602.18 1241.5,602.5 1242.5,602.58 1243.5,602.4 1244.5,602.25 1245.5,601.84 1246.5,601.32 1247.5,600.34 1248.5,599.23 1249.5,597.83 1250.5,596.08 1251.5,594.71 1252.5,593.37 1253.5,592.08 1254.5,590.69 1255.5,589.44 1256.5,588.54 1257.5,587.75 1258.5,587.24 1259.5,586.65 1260.5,586.08 1261.5,584.86 1262.5,583.6 1263.5,582.12 1264.5,580.61 1265.5,578.76 1266.5,576.5 1267.5,573.52 1268.5,569.99 1269.5,566.63 1270.5,563.75 1271.5,560.95 1272.5,558.5 1273.5,556.42 1274.5,554.55 1275.5,552.79 1276.5,551.44 1277.5,550.26 1278.5,549.53 1279.5,549.13 1280.5,549.54 1281.5,550.05 1282.5,550.92 1283.5,552.06 1284.5,554.09 1285.5,556.44 1286.5,559.11 1287.5,561.89 1288.5,565.04 1289.5,568.34 1290.5,571.52 1291.5,574.57 1292.5,577.8 1293.5,581.03 1294.5,584.16 1295.5,586.69 1296.5,589.43 1297.5,592.05 1298.5,594.21 1299.5,596.3 1300.5,598.25 1301.5,600.47 1302.5,602.09 1303.5,603.73 1304.5,605.4 1305.5,607.01 1306.5,607.96 1307.5,608.7 1308.5,609.33 1309.5,610.31 1310.5,610.62 1311.5,611.43 1312.5,611.89 1313.5,612.8 1314.5,612.91 1315.5,613.19 1316.5,613.26 1317.5,613.76 1318.5,614.1 1319.5,614.71 1320.5,614.98 1321.5,614.9 1322.5,614.88 1323.5,614.94 1324.5,615.42 1325.5,615.51 1326.5,615.44 1327.5,615.31 1328.5,615.38 1329.5,615.41 1330.5,615.48 1331.5,615.25 1332.5,615.49 1333.5,615.62 1334.5,615.76 1335.5,615.53 1336.5,615.35 1337.5,615.33 1338.5,615.41 1339.5,615.5 1340.5,615.35 1341.5,615.25 1342.5,615.11 1343.5,615.38 1344.5,615.38 1345.5,615.49 1346.5,615.46 1347.5,615.39 1348.5,615.11 1349.5,614.74 1350.5,614.9 1351.5,615.1 1352.5,615.22 1353.5,614.97 1354.5,614.84 1355.5,614.6 1356.5,614.68 1357.5,614.58 1358.5,614.66 1359.5,614.67 1360.5,614.44 1361.5,614.2 1362.5,613.97 1363.5,614.11 1364.5,614.02 1365.5,613.73 1366.5,613.47 1367.5,613.54 1368.5,613.46 1369.5,613.47 1370.5,613.5 1371.5,613.4 1372.5,613.02 1373.5,612.82 1374.5,612.46 1375.5,612.44 1376.5,612.1 1377.5,611.89 1378.5,611.68 1379.5,611.6 1380.5,611.65 1381.5,611.26 1382.5,611.01 1383.5,611.32 1384.5,611.53 1385.5,611.83 1386.5,611.55 1387.5,611.73 1388.5,611.65 1389.5,611.92 1390.5,612.17 1391.5,612.39 1392.5,612.43 1393.5,612.49 1394.5,612.57 1395.5,612.73 1396.5,612.78 1397.5,612.84 1398.5,613.03 1399.5,613.46 1400.5,613.66 1401.5,613.77 1402.5,613.53 1403.5,613.55 1404.5,613.78 1405.5,613.92 1406.5,614.11 1407.5,614.09 1408.5,614.11 1409.5,614.24 1410.5,614.28 1411.5,614.46 1412.5,614.28 1413.5,614.26 1414.5,614.01 1415.5,614.17 1416.5,614.21 1417.5,614.43 1418.5,614.5 1419.5,614.36 1420.5,614.37 1421.5,614.2 1422.5,614.41 1423.5,614.48 1424.5,614.8 1425.5,614.73 1426.5,614.88 1427.5,614.79 1428.5,614.94 1429.5,615 1430.5,615.21 1431.5,615.36 1432.5,615.15 1433.5,615.05 1434.5,614.8 1435.5,615.01 1436.5,614.88 1437.5,615.13 1438.5,615.2 1439.5,615.33 1440.5,615.12 1441.5,614.85 1442.5,614.7 1443.5,614.79 1444.5,615.05 1445.5,615.33 1446.5,615.49 1447.5,615.32 1448.5,615.2 1449.5,615.18 1450.5,615.35 1451.5,615.34 1452.5,615.09 1453.5,615.23 1454.5,615.22 1455.5,615.16 1456.5,614.98 1457.5,615 1458.5,615.15 1459.5,615.08 1460.5,614.89 1461.5,615.05 1462.5,615.02 1463.5,614.92 1464.5,614.71 1465.5,614.39 1466.5,614.61 1467.5,614.53 1468.5,614.85 1469.5,614.9 1470.5,614.97 1471.5,615.2 1472.5,615.12 1473.5,615.18 1474.5,614.9 1475.5,614.85 1476.5,614.68 1477.5,614.8 1478.5,614.91 1479.5,615.17 1480.5,614.98 1481.5,614.81 1482.5,614.61 1483.5,614.68 1484.5,614.76 1485.5,614.57 1486.5,614.55 1487.5,614.59 1488.5,614.86 1489.5,614.84 1490.5,614.81 1491.5,614.89 1492.5,615.08 1493.5,615.09 1494.5,614.97 1495.5,614.83 1496.5,614.92 1497.5,614.95 1498.5,614.97 1499.5,615.04 1500.5,614.95 1501.5,614.82 1502.5,614.65 1503.5,614.93 1504.5,615.11 1505.5,614.95 1506.5,614.85 1507.5,614.81 1508.5,615.03 1509.5,614.76 1510.5,614.66 1511.5,614.56 1512.5,614.84 1513.5,614.82 1514.5,614.79 1515.5,614.53 1516.5,614.72 1517.5,614.78 1518.5,615.04 1519.5,614.95 1520.5,615.07 1521.5,614.9 1522.5,614.98 1523.5,614.86 1524.5,614.88 1525.5,614.93 1526.5,614.86 1527.5,614.97 1528.5,614.9 1529.5,615.08 1530.5,615.08 1531.5,615.16 1532.5,615.07 1533.5,615.24 1534.5,615.3 1535.5,615.42 1536.5,615.25 1537.5,614.96 1538.5,614.84 1539.5,614.78 1540.5,614.94 1541.5,615.25 1542.5,615.16 1543.5,615.26 1544.5,615.11 1545.5,615.35 1546.5,615.28 1547.5,615.2 1548.5,615.13 1549.5,615.14 1550.5,615.37 1551.5,615.4 1552.5,615.56 1553.5,615.58 1554.5,615.6 1555.5,615.51 1556.5,615.54 1557.5,615.45 1558.5,615.33 1559.5,615.3 1560.5,615.55 1561.5,615.59 1562.5,615.39 1563.5,615.38 1564.5,615.63 1565.5,615.71 1566.5,615.56 1567.5,615.43" fill="none" stroke="#FF0000" stroke-width="4" stroke-linejoin="round" stroke-linecap="butt"/>
<path d="M977.55 639.2v-6.2M977.55 30.75v6.2M996.59 639.2v-6.2M996.59 30.75v6.2M1015.64 639.2v-6.2M1015.64 30.75v6.2M1034.69 639.2v-6.2M1034.69 30.75v6.2M1072.78 639.2v-6.2M1072.78 30.75v6.2M1091.83 639.2v-6.2M1091.83 30.75v6.2M1110.88 639.2v-6.2M1110.88 30.75v6.2M1129.92 639.2v-6.2M1129.92 30.75v6.2M1168.02 639.2v-6.2M1168.02 30.75v6.2M1187.06 639.2v-6.2M1187.06 30.75v6.2M1206.11 639.2v-6.2M1206.11 30.75v6.2M1225.16 639.2v-6.2M1225.16 30.75v6.2M1263.25 639.2v-6.2M1263.25 30.75v6.2M1282.3 639.2v-6.2M1282.3 30.75v6.2M1301.34 639.2v-6.2M1301.34 30.75v6.2M1320.39 639.2v-6.2M1320.39 30.75v6.2M1358.48 639.2v-6.2M1358.48 30.75v6.2M1377.53 639.2v-6.2M1377.53 30.75v6.2M1396.58 639.2v-6.2M1396.58 30.75v6.2M1415.62 639.2v-6.2M1415.62 30.75v6.2M1453.72 639.2v-6.2M1453.72 30.75v6.2M1472.77 639.2v-6.2M1472.77 30.75v6.2M1491.81 639.2v-6.2M1491.81 30.75v6.2M1510.86 639.2v-6.2M1510.86 30.75v6.2M1548.95 639.2v-6.2M1548.95 30.75v6.2M1053.73 639.2v-11.4M1053.73 30.75v11.4M1148.97 639.2v-11.4M1148.97 30.75v11.4M1244.2 639.2v-11.4M1244.2 30.75v11.4M1339.44 639.2v-11.4M1339.44 30.75v11.4M1434.67 639.2v-11.4M1434.67 30.75v11.4M1529.91 639.2v-11.4M1529.91 30.75v11.4M958.5 615.8h11.4M1568 615.8h-11.4M958.5 469.54h11.4M1568 469.54h-11.4M958.5 323.27h11.4M1568 323.27h-11.4M958.5 177.01h11.4M1568 177.01h-11.4" stroke="#000" stroke-width="2.0" fill="none"/>
<rect x="958.5" y="30.75" width="609.5" height="608.45" fill="none" stroke="#000" stroke-width="2.4"/>
<g font-size="34.2" text-anchor="middle">
<text transform="translate(960.3 683.2) scale(1 1.041)">0</text>
<text transform="translate(1055.53 683.2) scale(1 1.041)">0.5</text>
<text transform="translate(1150.77 683.2) scale(1 1.041)">1</text>
<text transform="translate(1246 683.2) scale(1 1.041)">1.5</text>
<text transform="translate(1341.24 683.2) scale(1 1.041)">2</text>
<text transform="translate(1436.47 683.2) scale(1 1.041)">2.5</text>
<text transform="translate(1531.71 683.2) scale(1 1.041)">3</text>
</g>
<g font-size="34.2" text-anchor="end">
<text transform="translate(946.3 629.7) scale(1 1.041)">0</text>
<text transform="translate(946.3 483.44) scale(1 1.041)">0.05</text>
<text transform="translate(946.3 337.17) scale(1 1.041)">0.1</text>
<text transform="translate(946.3 190.91) scale(1 1.041)">0.15</text>
<text transform="translate(946.3 44.65) scale(1 1.041)">0.2</text>
</g>
<text transform="translate(1263.65 738.3) scale(1 1.02)" font-size="33.7" text-anchor="middle">Elution volume (mL)</text>
<text transform="translate(857 335) rotate(-90) scale(1 1.02)" font-size="33.7" text-anchor="middle">Integrated scattering intensity</text>
<text transform="translate(821.7 45) scale(1 1)" font-size="59" fill="#000000" text-anchor="start">b</text>
<text transform="translate(1058 102.9) scale(1 1.041)" font-size="36.8" fill="#000000" text-anchor="start">MP1</text>
<path d="M1154.1 72.7V113.8M1145.6 100.5L1154.1 113.8L1162.6 100.5" stroke="#000000" stroke-width="2.9" fill="none" stroke-linejoin="miter" stroke-miterlimit="10"/>
<path d="M1150.8 309.1V349.8M1142.3 336.5L1150.8 349.8L1159.3 336.5" stroke="#FF0000" stroke-width="2.9" fill="none" stroke-linejoin="miter" stroke-miterlimit="10"/>
<text transform="translate(1193.2 461.3) scale(1 1.041)" font-size="36.8" fill="#000000" text-anchor="start">MP3</text>
<path d="M1256.1 475V574.3M1247.6 561L1256.1 574.3L1264.6 561" stroke="#000000" stroke-width="2.9" fill="none" stroke-linejoin="miter" stroke-miterlimit="10"/>
<path d="M1280.1 485.9V527.1M1271.6 513.8L1280.1 527.1L1288.6 513.8" stroke="#000000" stroke-width="2.9" fill="none" stroke-linejoin="miter" stroke-miterlimit="10"/>
<text transform="translate(1295.3 513.6) scale(1 1.041)" font-size="36.8" fill="#000000" text-anchor="start">MP2</text>
<path d="M1248 106.6H1308.8" stroke="#000" stroke-width="3.8"/>
<text transform="translate(1314 119.8) scale(1 1.02)" font-size="34" fill="#000000" text-anchor="start">Whole egg</text>
<path d="M1248 155.2H1308.8" stroke="#FF0000" stroke-width="3.8"/>
<text transform="translate(1313.3 169.1) scale(1 1.02)" font-size="34.25" fill="#FF0000" text-anchor="start">PF whole egg</text>
</g>
<g id="panel-c">
<path d="M426 1262.2V1272.26M422.6 1262.2h6.8M422.6 1272.26h6.8M431.12 1263.3V1274.07M427.72 1263.3h6.8M427.72 1274.07h6.8M435.57 1256.42V1267.82M432.17 1256.42h6.8M432.17 1267.82h6.8M440.81 1261.16V1273.29M437.41 1261.16h6.8M437.41 1273.29h6.8M445.92 1249.47V1264.55M442.52 1249.47h6.8M442.52 1264.55h6.8M451.53 1247.79V1266.23M448.13 1247.79h6.8M448.13 1266.23h6.8M455.37 1250.17V1269.2M451.97 1250.17h6.8M451.97 1269.2h6.8M459.33 1256.89V1275.13M455.93 1256.89h6.8M455.93 1275.13h6.8M464.2 1257.38V1274.65M460.8 1257.38h6.8M460.8 1274.65h6.8M468.9 1247.11V1266.91M465.5 1247.11h6.8M465.5 1266.91h6.8M473.95 1241.44V1265.28M470.55 1241.44h6.8M470.55 1265.28h6.8M479.13 1237.43V1260.54M475.73 1237.43h6.8M475.73 1260.54h6.8M484.31 1243.27V1265.89M480.91 1243.27h6.8M480.91 1265.89h6.8M489.79 1238.77V1267.96M486.39 1238.77h6.8M486.39 1267.96h6.8M494.36 1222.96V1285.23M490.96 1222.96h6.8M490.96 1285.23h6.8M499.54 1230.25V1279.88M496.14 1230.25h6.8M496.14 1279.88h6.8M504.42 1244.36V1275.01M501.02 1244.36h6.8M501.02 1275.01h6.8M509.9 1225.88V1276.96M506.5 1225.88h6.8M506.5 1276.96h6.8M514.78 1229.04V1277.69M511.38 1229.04h6.8M511.38 1277.69h6.8M519.65 1239.5V1268.69M516.25 1239.5h6.8M516.25 1268.69h6.8M525.13 1248.5V1276.71M521.73 1248.5h6.8M521.73 1276.71h6.8M530.62 1235.85V1284.5M527.22 1235.85h6.8M527.22 1284.5h6.8" stroke="#BB4FDA" stroke-width="1.2" fill="none"/>
<g fill="#BB4FDA">
<circle cx="187.58" cy="1137.09" r="5.2"/>
<circle cx="192.7" cy="1155.58" r="5.2"/>
<circle cx="196.54" cy="1172.85" r="5.2"/>
<circle cx="201.6" cy="1182.34" r="5.2"/>
<circle cx="205.43" cy="1187.44" r="5.2"/>
<circle cx="209.27" cy="1191.34" r="5.2"/>
<circle cx="213.17" cy="1195.96" r="5.2"/>
<circle cx="216.83" cy="1198.88" r="5.2"/>
<circle cx="222.07" cy="1200.09" r="5.2"/>
<circle cx="227.19" cy="1202.77" r="5.2"/>
<circle cx="232.24" cy="1208.61" r="5.2"/>
<circle cx="237.36" cy="1207.15" r="5.2"/>
<circle cx="242.42" cy="1207.15" r="5.2"/>
<circle cx="247.54" cy="1207.88" r="5.2"/>
<circle cx="253.39" cy="1203.5" r="5.2"/>
<circle cx="257.65" cy="1206.17" r="5.2"/>
<circle cx="264.17" cy="1209.58" r="5.2"/>
<circle cx="268.01" cy="1202.77" r="5.2"/>
<circle cx="274.35" cy="1209.58" r="5.2"/>
<circle cx="278.37" cy="1206.17" r="5.2"/>
<circle cx="283.24" cy="1203.98" r="5.2"/>
<circle cx="288.72" cy="1207.15" r="5.2"/>
<circle cx="293.6" cy="1204.71" r="5.2"/>
<circle cx="298.47" cy="1204.71" r="5.2"/>
<circle cx="303.71" cy="1209.58" r="5.2"/>
<circle cx="308.83" cy="1209.09" r="5.2"/>
<circle cx="313.89" cy="1213.71" r="5.2"/>
<circle cx="319.01" cy="1207.88" r="5.2"/>
<circle cx="324.06" cy="1219.79" r="5.2"/>
<circle cx="329.18" cy="1223.2" r="5.2"/>
<circle cx="334.42" cy="1230.74" r="5.2"/>
<circle cx="339.3" cy="1223.93" r="5.2"/>
<circle cx="344.48" cy="1226.61" r="5.2"/>
<circle cx="350.26" cy="1236.58" r="5.2"/>
<circle cx="354.53" cy="1246.06" r="5.2"/>
<circle cx="359.77" cy="1248.74" r="5.2"/>
<circle cx="364.89" cy="1247.28" r="5.2"/>
<circle cx="370.01" cy="1246.79" r="5.2"/>
<circle cx="374.64" cy="1258.96" r="5.2"/>
<circle cx="380.12" cy="1252.63" r="5.2"/>
<circle cx="384.69" cy="1251.9" r="5.2"/>
<circle cx="390.3" cy="1261.63" r="5.2"/>
<circle cx="395.35" cy="1264.79" r="5.2"/>
<circle cx="400.53" cy="1267.23" r="5.2"/>
<circle cx="405.1" cy="1260.9" r="5.2"/>
<circle cx="410.22" cy="1264.79" r="5.2"/>
<circle cx="415.82" cy="1268.69" r="5.2"/>
<circle cx="420.94" cy="1259.2" r="5.2"/>
<circle cx="426" cy="1267.23" r="5.2"/>
<circle cx="431.12" cy="1268.69" r="5.2"/>
<circle cx="435.57" cy="1262.12" r="5.2"/>
<circle cx="440.81" cy="1267.23" r="5.2"/>
<circle cx="445.92" cy="1257.01" r="5.2"/>
<circle cx="451.53" cy="1257.01" r="5.2"/>
<circle cx="455.37" cy="1259.69" r="5.2"/>
<circle cx="459.33" cy="1266.01" r="5.2"/>
<circle cx="464.2" cy="1266.01" r="5.2"/>
<circle cx="468.9" cy="1257.01" r="5.2"/>
<circle cx="473.95" cy="1253.36" r="5.2"/>
<circle cx="479.13" cy="1248.98" r="5.2"/>
<circle cx="484.31" cy="1254.58" r="5.2"/>
<circle cx="489.79" cy="1253.36" r="5.2"/>
<circle cx="494.36" cy="1254.09" r="5.2"/>
<circle cx="499.54" cy="1255.06" r="5.2"/>
<circle cx="504.42" cy="1259.69" r="5.2"/>
<circle cx="509.9" cy="1251.42" r="5.2"/>
<circle cx="514.78" cy="1253.36" r="5.2"/>
<circle cx="519.65" cy="1254.09" r="5.2"/>
<circle cx="525.13" cy="1262.61" r="5.2"/>
<circle cx="530.62" cy="1260.17" r="5.2"/>
</g>
<g fill="#0000CD">
<circle cx="525.99" cy="1370.26" r="5.2"/>
<circle cx="531.04" cy="1369" r="5.2"/>
<circle cx="536.09" cy="1363.8" r="5.2"/>
<circle cx="541.14" cy="1369.34" r="5.2"/>
<circle cx="546.19" cy="1365.05" r="5.2"/>
<circle cx="551.24" cy="1368.6" r="5.2"/>
<circle cx="556.29" cy="1371.2" r="5.2"/>
<circle cx="561.34" cy="1369.61" r="5.2"/>
<circle cx="566.4" cy="1366.71" r="5.2"/>
<circle cx="571.45" cy="1368.24" r="5.2"/>
<circle cx="576.5" cy="1374.79" r="5.2"/>
<circle cx="581.55" cy="1372.2" r="5.2"/>
<circle cx="586.6" cy="1370.78" r="5.2"/>
<circle cx="591.65" cy="1375.8" r="5.2"/>
<circle cx="596.7" cy="1376.21" r="5.2"/>
<circle cx="601.75" cy="1377.83" r="5.2"/>
<circle cx="606.8" cy="1377.71" r="5.2"/>
<circle cx="611.86" cy="1379.64" r="5.2"/>
<circle cx="616.91" cy="1379.96" r="5.2"/>
<circle cx="621.96" cy="1378.92" r="5.2"/>
<circle cx="627.01" cy="1380.68" r="5.2"/>
<circle cx="632.06" cy="1380.42" r="5.2"/>
<circle cx="637.11" cy="1378.34" r="5.2"/>
<circle cx="642.16" cy="1378.33" r="5.2"/>
<circle cx="647.21" cy="1380.5" r="5.2"/>
<circle cx="652.26" cy="1381.31" r="5.2"/>
<circle cx="657.31" cy="1380.73" r="5.2"/>
<circle cx="662.37" cy="1380.94" r="5.2"/>
<circle cx="667.42" cy="1382.26" r="5.2"/>
<circle cx="672.47" cy="1379.18" r="5.2"/>
<circle cx="677.52" cy="1379.55" r="5.2"/>
<circle cx="682.57" cy="1377.38" r="5.2"/>
<circle cx="687.62" cy="1376.62" r="5.2"/>
<circle cx="692.67" cy="1379.34" r="5.2"/>
<circle cx="697.72" cy="1379.55" r="5.2"/>
</g>
<path d="M166.86 1440.9v-6.2M166.86 832.8v6.2M227.8 1440.9v-6.2M227.8 832.8v6.2M258.26 1440.9v-6.2M258.26 832.8v6.2M288.72 1440.9v-6.2M288.72 832.8v6.2M349.66 1440.9v-6.2M349.66 832.8v6.2M380.12 1440.9v-6.2M380.12 832.8v6.2M410.59 1440.9v-6.2M410.59 832.8v6.2M471.52 1440.9v-6.2M471.52 832.8v6.2M501.98 1440.9v-6.2M501.98 832.8v6.2M532.45 1440.9v-6.2M532.45 832.8v6.2M593.38 1440.9v-6.2M593.38 832.8v6.2M623.84 1440.9v-6.2M623.84 832.8v6.2M654.31 1440.9v-6.2M654.31 832.8v6.2M715.24 1440.9v-6.2M715.24 832.8v6.2M197.33 1440.9v-11.4M197.33 832.8v11.4M319.19 1440.9v-11.4M319.19 832.8v11.4M441.05 1440.9v-11.4M441.05 832.8v11.4M562.91 1440.9v-11.4M562.91 832.8v11.4M684.77 1440.9v-11.4M684.77 832.8v11.4M136.4 1319.28h11.4M745.7 1319.28h-11.4M136.4 1197.66h11.4M745.7 1197.66h-11.4M136.4 1076.04h11.4M745.7 1076.04h-11.4M136.4 954.42h11.4M745.7 954.42h-11.4" stroke="#000" stroke-width="2.0" fill="none"/>
<rect x="136.4" y="832.8" width="609.3" height="608.1" fill="none" stroke="#000" stroke-width="2.4"/>
<g font-size="34.2" text-anchor="middle">
<text transform="translate(197.33 1484.9) scale(1 1.041)">1</text>
<text transform="translate(319.19 1484.9) scale(1 1.041)">1.2</text>
<text transform="translate(441.05 1484.9) scale(1 1.041)">1.4</text>
<text transform="translate(562.91 1484.9) scale(1 1.041)">1.6</text>
<text transform="translate(684.77 1484.9) scale(1 1.041)">1.8</text>
</g>
<g font-size="34.2" text-anchor="end">
<text transform="translate(124.4 1453.4) scale(1 1.041)">0</text>
<text transform="translate(124.4 1331.78) scale(1 1.041)">50</text>
<text transform="translate(124.4 1210.16) scale(1 1.041)">100</text>
<text transform="translate(124.4 1088.54) scale(1 1.041)">150</text>
<text transform="translate(124.4 966.92) scale(1 1.041)">200</text>
<text transform="translate(124.4 845.3) scale(1 1.041)">250</text>
</g>
<text transform="translate(441.6 1540.3) scale(1 1.02)" font-size="33.7" text-anchor="middle">Elution volume (mL)</text>
<text transform="translate(34.6 1136.2) rotate(-90) scale(1 1.02)" font-size="33.7" text-anchor="middle"><tspan font-style="italic">R</tspan><tspan font-size="24" dy="18">g</tspan><tspan dy="-18"> (Å)</tspan></text>
<text transform="translate(0 848) scale(1 1)" font-size="59" fill="#000000" text-anchor="start">c</text>
<text transform="translate(188.7 1122.8) scale(1 1.041)" font-size="36.8" fill="#000000" text-anchor="start">MP1</text>
<path d="M221.9 1142.9V1183.5M213.4 1170.2L221.9 1183.5L230.4 1170.2" stroke="#BF40FF" stroke-width="2.9" fill="none" stroke-linejoin="miter" stroke-miterlimit="10"/>
<text transform="translate(444.2 1335.4) scale(1 1.041)" font-size="36.8" fill="#000000" text-anchor="start">MP3</text>
<path d="M541.2 1310.2V1351.3M532.7 1338L541.2 1351.3L549.7 1338" stroke="#000000" stroke-width="2.9" fill="none" stroke-linejoin="miter" stroke-miterlimit="10"/>
<text transform="translate(581.4 1309.1) scale(1 1.041)" font-size="36.8" fill="#000000" text-anchor="start">MP2</text>
<path d="M616.5 1323.5V1364.6M608 1351.3L616.5 1364.6L625 1351.3" stroke="#000000" stroke-width="2.9" fill="none" stroke-linejoin="miter" stroke-miterlimit="10"/>
<circle cx="508.6" cy="904.8" r="5.2" fill="#BB4FDA"/>
<text transform="translate(543.9 918.6) scale(1 1.02)" font-size="34" fill="#BB4FDA" text-anchor="start">Egg yolk</text>
<circle cx="508.6" cy="952.1" r="5.2" fill="#0000CD"/>
<text transform="translate(543.9 965.9) scale(1 1.02)" font-size="34" fill="#0000CD" text-anchor="start">Egg white</text>
</g>
<g id="panel-d">
<path d="M1014 1130.05V1141.53M1010.6 1130.05h6.8M1010.6 1141.53h6.8M1110.63 1186.49V1197.2M1107.23 1186.49h6.8M1107.23 1197.2h6.8M1115.6 1188.4V1199.11M1112.2 1188.4h6.8M1112.2 1199.11h6.8M1120.58 1203.9V1214.23M1117.18 1203.9h6.8M1117.18 1214.23h6.8M1135.89 1198.73V1209.06M1132.49 1198.73h6.8M1132.49 1209.06h6.8M1145.84 1217.1V1227.81M1142.44 1217.1h6.8M1142.44 1227.81h6.8M1166.31 1210.97V1222.45M1162.91 1210.97h6.8M1162.91 1222.45h6.8M1176.64 1200.07V1211.55M1173.24 1200.07h6.8M1173.24 1211.55h6.8M1201.52 1222.84V1233.55M1198.12 1222.84h6.8M1198.12 1233.55h6.8M1212.04 1234.89V1248.28M1208.64 1234.89h6.8M1208.64 1248.28h6.8M1216.83 1236.8V1248.28M1213.43 1236.8h6.8M1213.43 1248.28h6.8M1221.8 1233.93V1245.41M1218.4 1233.93h6.8M1218.4 1245.41h6.8M1227.35 1259.76V1273.15M1223.95 1259.76h6.8M1223.95 1273.15h6.8M1232.13 1256.89V1268.37M1228.73 1256.89h6.8M1228.73 1268.37h6.8M1237.53 1241.91V1267.93M1234.13 1241.91h6.8M1234.13 1267.93h6.8M1242.52 1244.08V1261.42M1239.12 1244.08h6.8M1239.12 1261.42h6.8M1247.73 1263.59V1276.6M1244.33 1263.59h6.8M1244.33 1276.6h6.8M1252.71 1252.75V1291.78M1249.31 1252.75h6.8M1249.31 1291.78h6.8M1257.7 1262.51V1279.85M1254.3 1262.51h6.8M1254.3 1279.85h6.8M1262.91 1259.25V1274.43M1259.51 1259.25h6.8M1259.51 1274.43h6.8M1267.9 1279.2V1292.21M1264.5 1279.2h6.8M1264.5 1292.21h6.8M1272.88 1290.69V1305.87M1269.48 1290.69h6.8M1269.48 1305.87h6.8M1278.09 1259.25V1298.28M1274.69 1259.25h6.8M1274.69 1298.28h6.8M1283.08 1264.67V1288.53M1279.68 1264.67h6.8M1279.68 1288.53h6.8M1288.06 1272.26V1289.61M1284.66 1272.26h6.8M1284.66 1289.61h6.8M1293.27 1274V1295.68M1289.87 1274h6.8M1289.87 1295.68h6.8M1298.26 1279.85V1299.37M1294.86 1279.85h6.8M1294.86 1299.37h6.8M1301.08 1277.68V1292.86M1297.68 1277.68h6.8M1297.68 1292.86h6.8M1305.85 1283.54V1309.56M1302.45 1283.54h6.8M1302.45 1309.56h6.8M1311.27 1280.94V1306.96M1307.87 1280.94h6.8M1307.87 1306.96h6.8M1316.26 1306.96V1324.3M1312.86 1306.96h6.8M1312.86 1324.3h6.8M1321.24 1293.95V1322.13M1317.84 1293.95h6.8M1317.84 1322.13h6.8M1326.45 1299.37V1321.05M1323.05 1299.37h6.8M1323.05 1321.05h6.8M1331.44 1302.62V1322.13M1328.04 1302.62h6.8M1328.04 1322.13h6.8M1336.42 1302.62V1326.47M1333.02 1302.62h6.8M1333.02 1326.47h6.8M1341.63 1316.71V1329.72M1338.23 1316.71h6.8M1338.23 1329.72h6.8M1347.05 1310.64V1325.82M1343.65 1310.64h6.8M1343.65 1325.82h6.8M1351.82 1336.66V1349.67M1348.42 1336.66h6.8M1348.42 1349.67h6.8" stroke="#000000" stroke-width="1.2" fill="none"/>
<g fill="#000000">
<circle cx="1008.83" cy="1113.98" r="5.2"/>
<circle cx="1014" cy="1135.79" r="5.2"/>
<circle cx="1018.78" cy="1153.2" r="5.2"/>
<circle cx="1023.95" cy="1172.14" r="5.2"/>
<circle cx="1028.92" cy="1173.67" r="5.2"/>
<circle cx="1034.09" cy="1180.36" r="5.2"/>
<circle cx="1038.87" cy="1188.4" r="5.2"/>
<circle cx="1044.04" cy="1193.76" r="5.2"/>
<circle cx="1049.02" cy="1192.22" r="5.2"/>
<circle cx="1054.18" cy="1199.11" r="5.2"/>
<circle cx="1059.35" cy="1197.58" r="5.2"/>
<circle cx="1064.71" cy="1198.16" r="5.2"/>
<circle cx="1069.87" cy="1204.66" r="5.2"/>
<circle cx="1074.85" cy="1201.79" r="5.2"/>
<circle cx="1080.01" cy="1205.81" r="5.2"/>
<circle cx="1085.18" cy="1192.8" r="5.2"/>
<circle cx="1090.16" cy="1193.18" r="5.2"/>
<circle cx="1095.32" cy="1191.27" r="5.2"/>
<circle cx="1100.1" cy="1203.9" r="5.2"/>
<circle cx="1105.27" cy="1203.9" r="5.2"/>
<circle cx="1110.63" cy="1191.84" r="5.2"/>
<circle cx="1115.6" cy="1193.76" r="5.2"/>
<circle cx="1120.58" cy="1209.06" r="5.2"/>
<circle cx="1125.55" cy="1207.72" r="5.2"/>
<circle cx="1130.72" cy="1200.83" r="5.2"/>
<circle cx="1135.89" cy="1203.9" r="5.2"/>
<circle cx="1140.86" cy="1215.37" r="5.2"/>
<circle cx="1145.84" cy="1222.45" r="5.2"/>
<circle cx="1150.81" cy="1214.42" r="5.2"/>
<circle cx="1155.98" cy="1215.18" r="5.2"/>
<circle cx="1161.14" cy="1215.18" r="5.2"/>
<circle cx="1166.31" cy="1216.71" r="5.2"/>
<circle cx="1171.48" cy="1217.67" r="5.2"/>
<circle cx="1176.64" cy="1205.81" r="5.2"/>
<circle cx="1181.43" cy="1222.45" r="5.2"/>
<circle cx="1186.4" cy="1237.76" r="5.2"/>
<circle cx="1191.38" cy="1228.19" r="5.2"/>
<circle cx="1196.54" cy="1227.24" r="5.2"/>
<circle cx="1201.52" cy="1228.19" r="5.2"/>
<circle cx="1206.68" cy="1239.67" r="5.2"/>
<circle cx="1212.04" cy="1241.58" r="5.2"/>
<circle cx="1216.83" cy="1242.54" r="5.2"/>
<circle cx="1221.8" cy="1239.67" r="5.2"/>
<circle cx="1227.35" cy="1266.45" r="5.2"/>
<circle cx="1232.13" cy="1262.63" r="5.2"/>
<circle cx="1237.53" cy="1254.92" r="5.2"/>
<circle cx="1242.52" cy="1252.75" r="5.2"/>
<circle cx="1247.73" cy="1270.1" r="5.2"/>
<circle cx="1252.71" cy="1272.26" r="5.2"/>
<circle cx="1257.7" cy="1271.18" r="5.2"/>
<circle cx="1262.91" cy="1266.84" r="5.2"/>
<circle cx="1267.9" cy="1285.71" r="5.2"/>
<circle cx="1272.88" cy="1298.28" r="5.2"/>
<circle cx="1278.09" cy="1278.77" r="5.2"/>
<circle cx="1283.08" cy="1276.6" r="5.2"/>
<circle cx="1288.06" cy="1280.94" r="5.2"/>
<circle cx="1293.27" cy="1284.84" r="5.2"/>
<circle cx="1298.26" cy="1289.61" r="5.2"/>
<circle cx="1301.08" cy="1285.27" r="5.2"/>
<circle cx="1305.85" cy="1296.55" r="5.2"/>
<circle cx="1311.27" cy="1293.95" r="5.2"/>
<circle cx="1316.26" cy="1315.63" r="5.2"/>
<circle cx="1321.24" cy="1308.04" r="5.2"/>
<circle cx="1326.45" cy="1310.21" r="5.2"/>
<circle cx="1331.44" cy="1312.38" r="5.2"/>
<circle cx="1336.42" cy="1314.54" r="5.2"/>
<circle cx="1341.63" cy="1323.22" r="5.2"/>
<circle cx="1347.05" cy="1318.23" r="5.2"/>
<circle cx="1351.82" cy="1343.17" r="5.2"/>
<circle cx="1353.99" cy="1353.57" r="5.2"/>
<circle cx="1358.98" cy="1355.74" r="5.2"/>
<circle cx="1364.4" cy="1357.91" r="5.2"/>
<circle cx="1369.82" cy="1350.75" r="5.2"/>
<circle cx="1374.81" cy="1356.83" r="5.2"/>
<circle cx="1380.01" cy="1363.33" r="5.2"/>
<circle cx="1385" cy="1358.99" r="5.2"/>
<circle cx="1390.42" cy="1362.25" r="5.2"/>
<circle cx="1395.41" cy="1367.67" r="5.2"/>
<circle cx="1400.4" cy="1369.4" r="5.2"/>
<circle cx="1405.6" cy="1370.92" r="5.2"/>
<circle cx="1410.59" cy="1374.17" r="5.2"/>
<circle cx="1415.58" cy="1376.34" r="5.2"/>
<circle cx="1420.78" cy="1377.42" r="5.2"/>
<circle cx="1425.77" cy="1375.26" r="5.2"/>
<circle cx="1430.76" cy="1376.34" r="5.2"/>
<circle cx="1435.96" cy="1377.42" r="5.2"/>
<circle cx="1440.95" cy="1378.51" r="5.2"/>
<circle cx="1445.94" cy="1379.59" r="5.2"/>
<circle cx="1451.14" cy="1379.59" r="5.2"/>
<circle cx="1456.13" cy="1381.76" r="5.2"/>
<circle cx="1461.12" cy="1381.76" r="5.2"/>
<circle cx="1466.32" cy="1383.93" r="5.2"/>
<circle cx="1471.31" cy="1380.68" r="5.2"/>
<circle cx="1476.3" cy="1379.59" r="5.2"/>
<circle cx="1481.5" cy="1382.84" r="5.2"/>
<circle cx="1486.49" cy="1381.76" r="5.2"/>
<circle cx="1491.48" cy="1383.93" r="5.2"/>
<circle cx="1496.68" cy="1376.34" r="5.2"/>
<circle cx="1501.67" cy="1375.91" r="5.2"/>
<circle cx="1506.66" cy="1377.42" r="5.2"/>
<circle cx="1511.86" cy="1375.26" r="5.2"/>
<circle cx="1517.29" cy="1379.16" r="5.2"/>
</g>
<path d="M998.69 933.38V962.46M995.29 933.38h6.8M995.29 962.46h6.8M1003.86 935.48V997.47M1000.46 935.48h6.8M1000.46 997.47h6.8M1009.22 940.93V996.99M1005.82 940.93h6.8M1005.82 996.99h6.8M1014 938.92V973.36M1010.6 938.92h6.8M1010.6 973.36h6.8M1019.17 916.25V1001.39M1015.77 916.25h6.8M1015.77 1001.39h6.8M1023.95 992.4V1031.62M1020.55 992.4h6.8M1020.55 1031.62h6.8M1028.73 976.33V1015.93M1025.33 976.33h6.8M1025.33 1015.93h6.8M1034.09 972.02V1017.56M1030.69 972.02h6.8M1030.69 1017.56h6.8M1038.87 965.04V1013.82M1035.47 965.04h6.8M1035.47 1013.82h6.8M1044.04 985.41V1009.9M1040.64 985.41h6.8M1040.64 1009.9h6.8M1049.02 1025.11V1039.08M1045.62 1025.11h6.8M1045.62 1039.08h6.8M1054.18 1027.6V1042.33M1050.78 1027.6h6.8M1050.78 1042.33h6.8M1065.09 1040.7V1080.88M1061.69 1040.7h6.8M1061.69 1080.88h6.8M1070.06 1061.84V1076.19M1066.66 1061.84h6.8M1066.66 1076.19h6.8M1075.23 1053.14V1064.62M1071.83 1053.14h6.8M1071.83 1064.62h6.8M1080.4 1053.14V1123.93M1077 1053.14h6.8M1077 1123.93h6.8M1085.37 1042.33V1075.43M1081.97 1042.33h6.8M1081.97 1075.43h6.8M1090.54 1070.45V1094.37M1087.14 1070.45h6.8M1087.14 1094.37h6.8M1095.32 1059.93V1080.02M1091.92 1059.93h6.8M1091.92 1080.02h6.8M1100.49 1056.2V1085.28M1097.09 1056.2h6.8M1097.09 1085.28h6.8M1105.46 1080.98V1099.15M1102.06 1080.98h6.8M1102.06 1099.15h6.8M1110.63 1071.41V1116.37M1107.23 1071.41h6.8M1107.23 1116.37h6.8M1115.6 1086.72V1148.89M1112.2 1086.72h6.8M1112.2 1148.89h6.8M1120.77 1139.33V1161.33M1117.37 1139.33h6.8M1117.37 1161.33h6.8M1125.55 1147.94V1194.81M1122.15 1147.94h6.8M1122.15 1194.81h6.8M1130.72 1135.5V1168.98M1127.32 1135.5h6.8M1127.32 1168.98h6.8M1135.89 1135.5V1201.5M1132.49 1135.5h6.8M1132.49 1201.5h6.8M1140.86 1157.41V1199.49M1137.46 1157.41h6.8M1137.46 1199.49h6.8M1145.84 1158.36V1227.24M1142.44 1158.36h6.8M1142.44 1227.24h6.8M1150.81 1170.8V1203.32M1147.41 1170.8h6.8M1147.41 1203.32h6.8M1155.98 1166.97V1214.8M1152.58 1166.97h6.8M1152.58 1214.8h6.8M1161.14 1154.44V1210.88M1157.74 1154.44h6.8M1157.74 1210.88h6.8M1166.31 1171.75V1215.76M1162.91 1171.75h6.8M1162.91 1215.76h6.8M1171.48 1198.54V1236.8M1168.08 1198.54h6.8M1168.08 1236.8h6.8M1176.64 1209.06V1233.93M1173.24 1209.06h6.8M1173.24 1233.93h6.8M1181.43 1195.96V1240.53M1178.03 1195.96h6.8M1178.03 1240.53h6.8M1186.4 1219.58V1246.37M1183 1219.58h6.8M1183 1246.37h6.8M1191.38 1203.32V1241.58M1187.98 1203.32h6.8M1187.98 1241.58h6.8M1196.54 1211.93V1255.93M1193.14 1211.93h6.8M1193.14 1255.93h6.8M1201.52 1224.37V1262.63M1198.12 1224.37h6.8M1198.12 1262.63h6.8M1206.68 1223.41V1250.19M1203.28 1223.41h6.8M1203.28 1250.19h6.8M1212.04 1243.5V1264.54M1208.64 1243.5h6.8M1208.64 1264.54h6.8M1216.83 1254.98V1276.02M1213.43 1254.98h6.8M1213.43 1276.02h6.8M1221.8 1243.5V1276.02M1218.4 1243.5h6.8M1218.4 1276.02h6.8M1227.35 1278.89V1294.2M1223.95 1278.89h6.8M1223.95 1294.2h6.8M1232.13 1272.19V1287.5M1228.73 1272.19h6.8M1228.73 1287.5h6.8M1237.53 1240.82V1288.53M1234.13 1240.82h6.8M1234.13 1288.53h6.8M1242.52 1267.93V1289.61M1239.12 1267.93h6.8M1239.12 1289.61h6.8M1247.73 1248.41V1274.43M1244.33 1248.41h6.8M1244.33 1274.43h6.8M1252.71 1231.07V1285.27M1249.31 1231.07h6.8M1249.31 1285.27h6.8M1257.7 1244.08V1287.44M1254.3 1244.08h6.8M1254.3 1287.44h6.8M1262.91 1263.59V1293.95M1259.51 1263.59h6.8M1259.51 1293.95h6.8M1267.9 1260.34V1284.19M1264.5 1260.34h6.8M1264.5 1284.19h6.8M1272.88 1278.33V1295.68M1269.48 1278.33h6.8M1269.48 1295.68h6.8M1278.09 1267.93V1311.29M1274.69 1267.93h6.8M1274.69 1311.29h6.8M1283.08 1266.84V1301.54M1279.68 1266.84h6.8M1279.68 1301.54h6.8M1288.06 1283.1V1302.62M1284.66 1283.1h6.8M1284.66 1302.62h6.8M1293.27 1290.69V1308.04M1289.87 1290.69h6.8M1289.87 1308.04h6.8M1296.09 1286.79V1301.97M1292.69 1286.79h6.8M1292.69 1301.97h6.8M1301.08 1301.54V1323.22M1297.68 1301.54h6.8M1297.68 1323.22h6.8M1305.85 1311.73V1339.91M1302.45 1311.73h6.8M1302.45 1339.91h6.8M1311.27 1328.64V1356.83M1307.87 1328.64h6.8M1307.87 1356.83h6.8M1316.26 1323.22V1349.24M1312.86 1323.22h6.8M1312.86 1349.24h6.8M1321.24 1315.63V1345.98M1317.84 1315.63h6.8M1317.84 1345.98h6.8M1326.45 1328.64V1356.83M1323.05 1328.64h6.8M1323.05 1356.83h6.8M1331.44 1328.64V1361.16M1328.04 1328.64h6.8M1328.04 1361.16h6.8M1336.42 1331.89V1353.57M1333.02 1331.89h6.8M1333.02 1353.57h6.8M1341.63 1344.9V1370.92M1338.23 1344.9h6.8M1338.23 1370.92h6.8M1364.4 1357.91V1370.92M1361 1357.91h6.8M1361 1370.92h6.8M1511.86 1366.15V1376.99M1508.46 1366.15h6.8M1508.46 1376.99h6.8M1517.29 1381.33V1396.5M1513.89 1381.33h6.8M1513.89 1396.5h6.8" stroke="#FF0000" stroke-width="1.2" fill="none"/>
<g fill="#FF0000">
<circle cx="998.69" cy="947.92" r="5.2"/>
<circle cx="1003.86" cy="966.47" r="5.2"/>
<circle cx="1009.22" cy="968.96" r="5.2"/>
<circle cx="1014" cy="956.14" r="5.2"/>
<circle cx="1019.17" cy="958.82" r="5.2"/>
<circle cx="1023.95" cy="1012.01" r="5.2"/>
<circle cx="1028.73" cy="996.13" r="5.2"/>
<circle cx="1034.09" cy="994.79" r="5.2"/>
<circle cx="1038.87" cy="989.43" r="5.2"/>
<circle cx="1044.04" cy="997.66" r="5.2"/>
<circle cx="1049.02" cy="1032.09" r="5.2"/>
<circle cx="1054.18" cy="1034.96" r="5.2"/>
<circle cx="1059.92" cy="1032.67" r="5.2"/>
<circle cx="1065.09" cy="1060.79" r="5.2"/>
<circle cx="1070.06" cy="1069.02" r="5.2"/>
<circle cx="1075.23" cy="1058.88" r="5.2"/>
<circle cx="1080.4" cy="1088.53" r="5.2"/>
<circle cx="1085.37" cy="1058.88" r="5.2"/>
<circle cx="1090.54" cy="1082.41" r="5.2"/>
<circle cx="1095.32" cy="1069.98" r="5.2"/>
<circle cx="1100.49" cy="1070.74" r="5.2"/>
<circle cx="1105.46" cy="1090.06" r="5.2"/>
<circle cx="1110.63" cy="1093.89" r="5.2"/>
<circle cx="1115.6" cy="1117.8" r="5.2"/>
<circle cx="1120.77" cy="1150.33" r="5.2"/>
<circle cx="1125.55" cy="1171.37" r="5.2"/>
<circle cx="1130.72" cy="1152.24" r="5.2"/>
<circle cx="1135.89" cy="1168.5" r="5.2"/>
<circle cx="1140.86" cy="1178.45" r="5.2"/>
<circle cx="1145.84" cy="1192.8" r="5.2"/>
<circle cx="1150.81" cy="1187.06" r="5.2"/>
<circle cx="1155.98" cy="1190.89" r="5.2"/>
<circle cx="1161.14" cy="1182.66" r="5.2"/>
<circle cx="1166.31" cy="1193.76" r="5.2"/>
<circle cx="1171.48" cy="1217.67" r="5.2"/>
<circle cx="1176.64" cy="1221.5" r="5.2"/>
<circle cx="1181.43" cy="1218.24" r="5.2"/>
<circle cx="1186.4" cy="1232.97" r="5.2"/>
<circle cx="1191.38" cy="1222.45" r="5.2"/>
<circle cx="1196.54" cy="1233.93" r="5.2"/>
<circle cx="1201.52" cy="1243.5" r="5.2"/>
<circle cx="1206.68" cy="1236.8" r="5.2"/>
<circle cx="1212.04" cy="1254.02" r="5.2"/>
<circle cx="1216.83" cy="1265.5" r="5.2"/>
<circle cx="1221.8" cy="1259.76" r="5.2"/>
<circle cx="1227.35" cy="1286.54" r="5.2"/>
<circle cx="1232.13" cy="1279.85" r="5.2"/>
<circle cx="1237.53" cy="1264.67" r="5.2"/>
<circle cx="1242.52" cy="1278.77" r="5.2"/>
<circle cx="1247.73" cy="1261.42" r="5.2"/>
<circle cx="1252.71" cy="1258.17" r="5.2"/>
<circle cx="1257.7" cy="1265.76" r="5.2"/>
<circle cx="1262.91" cy="1278.77" r="5.2"/>
<circle cx="1267.9" cy="1272.26" r="5.2"/>
<circle cx="1272.88" cy="1287.01" r="5.2"/>
<circle cx="1278.09" cy="1289.61" r="5.2"/>
<circle cx="1283.08" cy="1284.19" r="5.2"/>
<circle cx="1288.06" cy="1292.86" r="5.2"/>
<circle cx="1293.27" cy="1299.37" r="5.2"/>
<circle cx="1296.09" cy="1294.38" r="5.2"/>
<circle cx="1301.08" cy="1312.38" r="5.2"/>
<circle cx="1305.85" cy="1325.82" r="5.2"/>
<circle cx="1311.27" cy="1342.73" r="5.2"/>
<circle cx="1316.26" cy="1336.23" r="5.2"/>
<circle cx="1321.24" cy="1330.81" r="5.2"/>
<circle cx="1326.45" cy="1342.73" r="5.2"/>
<circle cx="1331.44" cy="1344.9" r="5.2"/>
<circle cx="1336.42" cy="1342.73" r="5.2"/>
<circle cx="1341.63" cy="1357.91" r="5.2"/>
<circle cx="1347.05" cy="1361.16" r="5.2"/>
<circle cx="1351.82" cy="1362.25" r="5.2"/>
<circle cx="1356.81" cy="1360.08" r="5.2"/>
<circle cx="1361.8" cy="1362.25" r="5.2"/>
<circle cx="1364.4" cy="1364.41" r="5.2"/>
<circle cx="1369.82" cy="1360.08" r="5.2"/>
<circle cx="1374.81" cy="1365.5" r="5.2"/>
<circle cx="1380.01" cy="1373.09" r="5.2"/>
<circle cx="1385" cy="1356.83" r="5.2"/>
<circle cx="1390.42" cy="1365.5" r="5.2"/>
<circle cx="1395.41" cy="1369.84" r="5.2"/>
<circle cx="1400.4" cy="1372" r="5.2"/>
<circle cx="1405.6" cy="1374.17" r="5.2"/>
<circle cx="1410.59" cy="1376.34" r="5.2"/>
<circle cx="1415.58" cy="1378.51" r="5.2"/>
<circle cx="1420.78" cy="1379.59" r="5.2"/>
<circle cx="1425.77" cy="1377.42" r="5.2"/>
<circle cx="1430.76" cy="1379.59" r="5.2"/>
<circle cx="1435.96" cy="1380.68" r="5.2"/>
<circle cx="1440.95" cy="1382.84" r="5.2"/>
<circle cx="1445.94" cy="1380.68" r="5.2"/>
<circle cx="1451.14" cy="1379.59" r="5.2"/>
<circle cx="1456.13" cy="1377.42" r="5.2"/>
<circle cx="1461.12" cy="1378.51" r="5.2"/>
<circle cx="1466.32" cy="1379.59" r="5.2"/>
<circle cx="1471.31" cy="1383.93" r="5.2"/>
<circle cx="1476.3" cy="1380.68" r="5.2"/>
<circle cx="1481.5" cy="1385.01" r="5.2"/>
<circle cx="1486.49" cy="1381.76" r="5.2"/>
<circle cx="1491.48" cy="1383.93" r="5.2"/>
<circle cx="1496.68" cy="1383.93" r="5.2"/>
<circle cx="1501.67" cy="1378.51" r="5.2"/>
<circle cx="1506.66" cy="1381.76" r="5.2"/>
<circle cx="1511.86" cy="1371.57" r="5.2"/>
<circle cx="1517.29" cy="1388.92" r="5.2"/>
</g>
<path d="M988.88 1441.4v-6.2M988.88 833.9v6.2M1049.84 1441.4v-6.2M1049.84 833.9v6.2M1080.32 1441.4v-6.2M1080.32 833.9v6.2M1110.8 1441.4v-6.2M1110.8 833.9v6.2M1171.76 1441.4v-6.2M1171.76 833.9v6.2M1202.24 1441.4v-6.2M1202.24 833.9v6.2M1232.72 1441.4v-6.2M1232.72 833.9v6.2M1293.68 1441.4v-6.2M1293.68 833.9v6.2M1324.16 1441.4v-6.2M1324.16 833.9v6.2M1354.64 1441.4v-6.2M1354.64 833.9v6.2M1415.6 1441.4v-6.2M1415.6 833.9v6.2M1446.08 1441.4v-6.2M1446.08 833.9v6.2M1476.56 1441.4v-6.2M1476.56 833.9v6.2M1537.52 1441.4v-6.2M1537.52 833.9v6.2M1019.36 1441.4v-11.4M1019.36 833.9v11.4M1141.28 1441.4v-11.4M1141.28 833.9v11.4M1263.2 1441.4v-11.4M1263.2 833.9v11.4M1385.12 1441.4v-11.4M1385.12 833.9v11.4M1507.04 1441.4v-11.4M1507.04 833.9v11.4M958.4 1319.9h11.4M1568 1319.9h-11.4M958.4 1198.4h11.4M1568 1198.4h-11.4M958.4 1076.9h11.4M1568 1076.9h-11.4M958.4 955.4h11.4M1568 955.4h-11.4" stroke="#000" stroke-width="2.0" fill="none"/>
<rect x="958.4" y="833.9" width="609.6" height="607.5" fill="none" stroke="#000" stroke-width="2.4"/>
<g font-size="34.2" text-anchor="middle">
<text transform="translate(1019.36 1485.9) scale(1 1.041)">1</text>
<text transform="translate(1141.28 1485.9) scale(1 1.041)">1.2</text>
<text transform="translate(1263.2 1485.9) scale(1 1.041)">1.4</text>
<text transform="translate(1385.12 1485.9) scale(1 1.041)">1.6</text>
<text transform="translate(1507.04 1485.9) scale(1 1.041)">1.8</text>
</g>
<g font-size="34.2" text-anchor="end">
<text transform="translate(946.3 1453.9) scale(1 1.041)">0</text>
<text transform="translate(946.3 1332.4) scale(1 1.041)">50</text>
<text transform="translate(946.3 1210.9) scale(1 1.041)">100</text>
<text transform="translate(946.3 1089.4) scale(1 1.041)">150</text>
<text transform="translate(946.3 967.9) scale(1 1.041)">200</text>
<text transform="translate(946.3 846.4) scale(1 1.041)">250</text>
</g>
<text transform="translate(1263.3 1541) scale(1 1.02)" font-size="33.7" text-anchor="middle">Elution volume (mL)</text>
<text transform="translate(857 1136.6) rotate(-90) scale(1 1.02)" font-size="33.7" text-anchor="middle"><tspan font-style="italic">R</tspan><tspan font-size="24" dy="18">g</tspan><tspan dy="-18"> (Å)</tspan></text>
<text transform="translate(820.7 847.8) scale(1 1)" font-size="59" fill="#000000" text-anchor="start">d</text>
<path d="M1023.3 1083.8V1043M1014.8 1056.3L1023.3 1043L1031.8 1056.3" stroke="#FF0000" stroke-width="2.9" fill="none" stroke-linejoin="miter" stroke-miterlimit="10"/>
<path d="M1033.8 1251.1V1210.8M1025.3 1224.1L1033.8 1210.8L1042.3 1224.1" stroke="#000000" stroke-width="2.9" fill="none" stroke-linejoin="miter" stroke-miterlimit="10"/>
<text transform="translate(997.5 1303.2) scale(1 1.041)" font-size="36.8" fill="#000000" text-anchor="start">MP1</text>
<text transform="translate(1323.4 1282.7) scale(1 1.041)" font-size="36.8" fill="#000000" text-anchor="start">MP3</text>
<path d="M1364 1297.9V1338.5M1355.5 1325.2L1364 1338.5L1372.5 1325.2" stroke="#000000" stroke-width="2.9" fill="none" stroke-linejoin="miter" stroke-miterlimit="10"/>
<text transform="translate(1422.5 1308.4) scale(1 1.041)" font-size="36.8" fill="#000000" text-anchor="start">MP2</text>
<path d="M1439.7 1321.7V1362.4M1431.2 1349.1L1439.7 1362.4L1448.2 1349.1" stroke="#000000" stroke-width="2.9" fill="none" stroke-linejoin="miter" stroke-miterlimit="10"/>
<circle cx="1276.5" cy="901" r="5.2" fill="#000"/>
<text transform="translate(1312 914.5) scale(1 1.02)" font-size="34" fill="#000000" text-anchor="start">Whole egg</text>
<circle cx="1276.5" cy="951.2" r="5.2" fill="#FF0000"/>
<text transform="translate(1311.8 965.5) scale(1 1.02)" font-size="34" fill="#FF0000" text-anchor="start">PF whole egg</text>
</g>
<g id="panel-e">
<path d="M166.86 2252.7v-6.2M166.86 1644.7v6.2M227.8 2252.7v-6.2M227.8 1644.7v6.2M258.26 2252.7v-6.2M258.26 1644.7v6.2M288.72 2252.7v-6.2M288.72 1644.7v6.2M349.66 2252.7v-6.2M349.66 1644.7v6.2M380.12 2252.7v-6.2M380.12 1644.7v6.2M410.59 2252.7v-6.2M410.59 1644.7v6.2M471.52 2252.7v-6.2M471.52 1644.7v6.2M501.98 2252.7v-6.2M501.98 1644.7v6.2M532.45 2252.7v-6.2M532.45 1644.7v6.2M593.38 2252.7v-6.2M593.38 1644.7v6.2M623.84 2252.7v-6.2M623.84 1644.7v6.2M654.31 2252.7v-6.2M654.31 1644.7v6.2M715.24 2252.7v-6.2M715.24 1644.7v6.2M197.33 2252.7v-11.4M197.33 1644.7v11.4M319.19 2252.7v-11.4M319.19 1644.7v11.4M441.05 2252.7v-11.4M441.05 1644.7v11.4M562.91 2252.7v-11.4M562.91 1644.7v11.4M684.77 2252.7v-11.4M684.77 1644.7v11.4M136.4 2147.87h11.4M745.7 2147.87h-11.4M136.4 2043.04h11.4M745.7 2043.04h-11.4M136.4 1938.22h11.4M745.7 1938.22h-11.4M136.4 1833.39h11.4M745.7 1833.39h-11.4M136.4 1728.56h11.4M745.7 1728.56h-11.4" stroke="#000" stroke-width="2.0" fill="none"/>
<rect x="136.4" y="1644.7" width="609.3" height="608" fill="none" stroke="#000" stroke-width="2.4"/>
<g font-size="34.2" text-anchor="middle">
<text transform="translate(197.33 2300) scale(1 1.041)">1</text>
<text transform="translate(319.19 2300) scale(1 1.041)">1.2</text>
<text transform="translate(441.05 2300) scale(1 1.041)">1.4</text>
<text transform="translate(562.91 2300) scale(1 1.041)">1.6</text>
<text transform="translate(684.77 2300) scale(1 1.041)">1.8</text>
</g>
<g font-size="34.2" text-anchor="end">
<text transform="translate(124.4 2266.9) scale(1 1.041)">0</text>
<text transform="translate(124.4 2162.07) scale(1 1.041)">50</text>
<text transform="translate(124.4 2057.24) scale(1 1.041)">100</text>
<text transform="translate(124.4 1952.42) scale(1 1.041)">150</text>
<text transform="translate(124.4 1847.59) scale(1 1.041)">200</text>
<text transform="translate(124.4 1742.76) scale(1 1.041)">250</text>
</g>
<text transform="translate(441.6 2351.7) scale(1 1.02)" font-size="33.7" text-anchor="middle">Elution volume (mL)</text>
<g fill="#0000CD">
<circle cx="526.35" cy="2251.02" r="5.2"/>
<circle cx="531.35" cy="2250.81" r="5.2"/>
<circle cx="536.34" cy="2250.59" r="5.2"/>
<circle cx="541.34" cy="2250.38" r="5.2"/>
<circle cx="546.34" cy="2250.16" r="5.2"/>
<circle cx="551.33" cy="2249.89" r="5.2"/>
<circle cx="556.33" cy="2249.2" r="5.2"/>
<circle cx="561.33" cy="2248.52" r="5.2"/>
<circle cx="566.32" cy="2247.97" r="5.2"/>
<circle cx="571.32" cy="2247.5" r="5.2"/>
<circle cx="576.31" cy="2247.03" r="5.2"/>
<circle cx="581.31" cy="2246.56" r="5.2"/>
<circle cx="586.31" cy="2246.08" r="5.2"/>
<circle cx="591.3" cy="2245.56" r="5.2"/>
<circle cx="596.3" cy="2245.02" r="5.2"/>
<circle cx="601.3" cy="2244.48" r="5.2"/>
<circle cx="606.29" cy="2243.94" r="5.2"/>
<circle cx="611.29" cy="2243.57" r="5.2"/>
<circle cx="616.28" cy="2243.35" r="5.2"/>
<circle cx="621.28" cy="2243.48" r="5.2"/>
<circle cx="626.28" cy="2243.84" r="5.2"/>
<circle cx="631.27" cy="2244.27" r="5.2"/>
<circle cx="636.27" cy="2244.87" r="5.2"/>
<circle cx="641.27" cy="2245.47" r="5.2"/>
<circle cx="646.26" cy="2246.07" r="5.2"/>
<circle cx="651.26" cy="2246.67" r="5.2"/>
<circle cx="656.25" cy="2247.31" r="5.2"/>
<circle cx="661.25" cy="2248" r="5.2"/>
<circle cx="666.25" cy="2248.68" r="5.2"/>
<circle cx="671.24" cy="2249.37" r="5.2"/>
<circle cx="676.24" cy="2250.01" r="5.2"/>
<circle cx="681.24" cy="2250.31" r="5.2"/>
<circle cx="686.23" cy="2250.62" r="5.2"/>
<circle cx="691.23" cy="2250.92" r="5.2"/>
<circle cx="696.22" cy="2251.23" r="5.2"/>
</g>
<g fill="#BB4FDA">
<circle cx="187.26" cy="1987.89" r="5.2"/>
<circle cx="192.26" cy="1916.11" r="5.2"/>
<circle cx="197.25" cy="1858.26" r="5.2"/>
<circle cx="202.25" cy="1807.51" r="5.2"/>
<circle cx="207.24" cy="1774.12" r="5.2"/>
<circle cx="212.24" cy="1751.77" r="5.2"/>
<circle cx="217.24" cy="1748.35" r="5.2"/>
<circle cx="222.76" cy="1747.3" r="5.2"/>
<circle cx="227.49" cy="1763.6" r="5.2"/>
<circle cx="232.75" cy="1792" r="5.2"/>
<circle cx="238.01" cy="1819.34" r="5.2"/>
<circle cx="243.27" cy="1850.63" r="5.2"/>
<circle cx="248.53" cy="1885.08" r="5.2"/>
<circle cx="253.52" cy="1915.84" r="5.2"/>
<circle cx="258.52" cy="1950.81" r="5.2"/>
<circle cx="263.52" cy="1982.63" r="5.2"/>
<circle cx="268.77" cy="2006.82" r="5.2"/>
<circle cx="273.77" cy="2038.37" r="5.2"/>
<circle cx="278.77" cy="2060.2" r="5.2"/>
<circle cx="283.76" cy="2080.45" r="5.2"/>
<circle cx="288.76" cy="2099.64" r="5.2"/>
<circle cx="293.76" cy="2116.47" r="5.2"/>
<circle cx="298.75" cy="2130.93" r="5.2"/>
<circle cx="303.75" cy="2144.87" r="5.2"/>
<circle cx="309.01" cy="2154.6" r="5.2"/>
<circle cx="314.27" cy="2165.11" r="5.2"/>
<circle cx="319.26" cy="2171.69" r="5.2"/>
<circle cx="324.26" cy="2182.21" r="5.2"/>
<circle cx="329.25" cy="2186.94" r="5.2"/>
<circle cx="334.25" cy="2194.3" r="5.2"/>
<circle cx="339.25" cy="2196.93" r="5.2"/>
<circle cx="344.24" cy="2201.4" r="5.2"/>
<circle cx="349.24" cy="2206.66" r="5.2"/>
<circle cx="354.23" cy="2210.6" r="5.2"/>
<circle cx="359.23" cy="2213.23" r="5.2"/>
<circle cx="364.23" cy="2215.86" r="5.2"/>
<circle cx="369.22" cy="2217.97" r="5.2"/>
<circle cx="374.22" cy="2220.33" r="5.2"/>
<circle cx="379.21" cy="2222.16" r="5.2"/>
<circle cx="384.21" cy="2223.91" r="5.2"/>
<circle cx="389.21" cy="2225.51" r="5.2"/>
<circle cx="394.2" cy="2227.01" r="5.2"/>
<circle cx="399.2" cy="2228.51" r="5.2"/>
<circle cx="404.2" cy="2229.83" r="5.2"/>
<circle cx="409.19" cy="2231.1" r="5.2"/>
<circle cx="414.19" cy="2232.37" r="5.2"/>
<circle cx="419.18" cy="2233.65" r="5.2"/>
<circle cx="424.18" cy="2234.9" r="5.2"/>
<circle cx="429.18" cy="2236.09" r="5.2"/>
<circle cx="434.17" cy="2237.28" r="5.2"/>
<circle cx="439.17" cy="2238.47" r="5.2"/>
<circle cx="444.17" cy="2239.66" r="5.2"/>
<circle cx="449.16" cy="2240.59" r="5.2"/>
<circle cx="454.16" cy="2241.37" r="5.2"/>
<circle cx="459.15" cy="2242.15" r="5.2"/>
<circle cx="464.15" cy="2242.92" r="5.2"/>
<circle cx="469.15" cy="2243.69" r="5.2"/>
<circle cx="474.14" cy="2244.1" r="5.2"/>
<circle cx="479.14" cy="2244.51" r="5.2"/>
<circle cx="484.14" cy="2244.93" r="5.2"/>
<circle cx="489.13" cy="2245.34" r="5.2"/>
<circle cx="494.13" cy="2245.71" r="5.2"/>
<circle cx="499.12" cy="2246.03" r="5.2"/>
<circle cx="504.12" cy="2246.35" r="5.2"/>
<circle cx="509.12" cy="2246.67" r="5.2"/>
<circle cx="514.11" cy="2246.99" r="5.2"/>
<circle cx="519.11" cy="2247.26" r="5.2"/>
<circle cx="524.11" cy="2247.52" r="5.2"/>
<circle cx="529.1" cy="2247.78" r="5.2"/>
</g>
<text transform="translate(34.7 1948) rotate(-90) scale(1 1.02)" font-size="33.7" text-anchor="middle"><tspan font-style="italic">I</tspan>(0)</text>
<text transform="translate(-0.5 1663.8) scale(1 1)" font-size="59" fill="#000000" text-anchor="start">e</text>
<path d="M221 1687.9V1729.3M212.5 1716L221 1729.3L229.5 1716" stroke="#BF40FF" stroke-width="2.9" fill="none" stroke-linejoin="miter" stroke-miterlimit="10"/>
<text transform="translate(233.9 1700.4) scale(1 1.041)" font-size="36.8" fill="#000000" text-anchor="start">MP1</text>
<text transform="translate(486.9 2172.9) scale(1 1.041)" font-size="36.8" fill="#000000" text-anchor="start">MP3</text>
<path d="M540.7 2187V2227.6M532.2 2214.3L540.7 2227.6L549.2 2214.3" stroke="#000000" stroke-width="2.9" fill="none" stroke-linejoin="miter" stroke-miterlimit="10"/>
<text transform="translate(604.7 2167.8) scale(1 1.041)" font-size="36.8" fill="#000000" text-anchor="start">MP2</text>
<path d="M616.3 2184.7V2225.3M607.8 2212L616.3 2225.3L624.8 2212" stroke="#000000" stroke-width="2.9" fill="none" stroke-linejoin="miter" stroke-miterlimit="10"/>
<circle cx="503.6" cy="1715.4" r="5.2" fill="#BB4FDA"/>
<text transform="translate(538.6 1729.1) scale(1 1.02)" font-size="34" fill="#BB4FDA" text-anchor="start">Egg yolk</text>
<circle cx="503.6" cy="1766.1" r="5.2" fill="#0000CD"/>
<text transform="translate(538.6 1779.6) scale(1 1.02)" font-size="34" fill="#0000CD" text-anchor="start">Egg white</text>
</g>
<g id="panel-f">
<path d="M988.88 2252.7v-6.2M988.88 1644.7v6.2M1049.84 2252.7v-6.2M1049.84 1644.7v6.2M1080.32 2252.7v-6.2M1080.32 1644.7v6.2M1110.8 2252.7v-6.2M1110.8 1644.7v6.2M1171.76 2252.7v-6.2M1171.76 1644.7v6.2M1202.24 2252.7v-6.2M1202.24 1644.7v6.2M1232.72 2252.7v-6.2M1232.72 1644.7v6.2M1293.68 2252.7v-6.2M1293.68 1644.7v6.2M1324.16 2252.7v-6.2M1324.16 1644.7v6.2M1354.64 2252.7v-6.2M1354.64 1644.7v6.2M1415.6 2252.7v-6.2M1415.6 1644.7v6.2M1446.08 2252.7v-6.2M1446.08 1644.7v6.2M1476.56 2252.7v-6.2M1476.56 1644.7v6.2M1537.52 2252.7v-6.2M1537.52 1644.7v6.2M1019.36 2252.7v-11.4M1019.36 1644.7v11.4M1141.28 2252.7v-11.4M1141.28 1644.7v11.4M1263.2 2252.7v-11.4M1263.2 1644.7v11.4M1385.12 2252.7v-11.4M1385.12 1644.7v11.4M1507.04 2252.7v-11.4M1507.04 1644.7v11.4M958.4 2168.84h11.4M1568 2168.84h-11.4M958.4 2084.98h11.4M1568 2084.98h-11.4M958.4 2001.11h11.4M1568 2001.11h-11.4M958.4 1917.25h11.4M1568 1917.25h-11.4M958.4 1833.39h11.4M1568 1833.39h-11.4M958.4 1749.53h11.4M1568 1749.53h-11.4M958.4 1665.67h11.4M1568 1665.67h-11.4" stroke="#000" stroke-width="2.0" fill="none"/>
<rect x="958.4" y="1644.7" width="609.6" height="608" fill="none" stroke="#000" stroke-width="2.4"/>
<g font-size="34.2" text-anchor="middle">
<text transform="translate(1018.86 2298.7) scale(1 1.041)">1</text>
<text transform="translate(1140.78 2298.7) scale(1 1.041)">1.2</text>
<text transform="translate(1262.7 2298.7) scale(1 1.041)">1.4</text>
<text transform="translate(1384.62 2298.7) scale(1 1.041)">1.6</text>
<text transform="translate(1506.54 2298.7) scale(1 1.041)">1.8</text>
</g>
<g font-size="34.2" text-anchor="end">
<text transform="translate(946.3 2266.7) scale(1 1.041)">0</text>
<text transform="translate(946.3 2182.84) scale(1 1.041)">20</text>
<text transform="translate(946.3 2098.98) scale(1 1.041)">40</text>
<text transform="translate(946.3 2015.11) scale(1 1.041)">60</text>
<text transform="translate(946.3 1931.25) scale(1 1.041)">80</text>
<text transform="translate(946.3 1847.39) scale(1 1.041)">100</text>
<text transform="translate(946.3 1763.53) scale(1 1.041)">120</text>
<text transform="translate(946.3 1679.67) scale(1 1.041)">140</text>
</g>
<text transform="translate(1262.95 2350.6) scale(1 1.02)" font-size="33.7" text-anchor="middle">Elution volume (mL)</text>
<g fill="#000000">
<circle cx="1008.81" cy="2018.12" r="5.2"/>
<circle cx="1013.81" cy="1953.43" r="5.2"/>
<circle cx="1018.8" cy="1900.84" r="5.2"/>
<circle cx="1023.8" cy="1870.34" r="5.2"/>
<circle cx="1028.8" cy="1839.83" r="5.2"/>
<circle cx="1034.06" cy="1833.78" r="5.2"/>
<circle cx="1039.05" cy="1841.41" r="5.2"/>
<circle cx="1044.05" cy="1856.4" r="5.2"/>
<circle cx="1049.05" cy="1874.81" r="5.2"/>
<circle cx="1054.31" cy="1904.78" r="5.2"/>
<circle cx="1059.57" cy="1930.03" r="5.2"/>
<circle cx="1064.56" cy="1955.53" r="5.2"/>
<circle cx="1069.82" cy="1987.61" r="5.2"/>
<circle cx="1074.82" cy="2007.6" r="5.2"/>
<circle cx="1080.08" cy="2033.63" r="5.2"/>
<circle cx="1085.08" cy="2046.25" r="5.2"/>
<circle cx="1090.07" cy="2066.5" r="5.2"/>
<circle cx="1095.33" cy="2083.86" r="5.2"/>
<circle cx="1100.33" cy="2103.58" r="5.2"/>
<circle cx="1105.33" cy="2118.04" r="5.2"/>
<circle cx="1110.32" cy="2125.14" r="5.2"/>
<circle cx="1115.32" cy="2136.18" r="5.2"/>
<circle cx="1120.32" cy="2150.12" r="5.2"/>
<circle cx="1125.32" cy="2158.01" r="5.2"/>
<circle cx="1130.31" cy="2161.95" r="5.2"/>
<circle cx="1135.31" cy="2169.84" r="5.2"/>
<circle cx="1140.31" cy="2178.52" r="5.2"/>
<circle cx="1145.3" cy="2182.99" r="5.2"/>
<circle cx="1150.3" cy="2186.41" r="5.2"/>
<circle cx="1155.3" cy="2189.56" r="5.2"/>
<circle cx="1160.29" cy="2192.98" r="5.2"/>
<circle cx="1165.55" cy="2197.45" r="5.2"/>
<circle cx="1170.55" cy="2201.4" r="5.2"/>
<circle cx="1175.55" cy="2204.03" r="5.2"/>
<circle cx="1180.54" cy="2209.29" r="5.2"/>
<circle cx="1185.54" cy="2212.7" r="5.2"/>
<circle cx="1190.54" cy="2213.76" r="5.2"/>
<circle cx="1195.53" cy="2215.86" r="5.2"/>
<circle cx="1200.53" cy="2217.7" r="5.2"/>
<circle cx="1205.53" cy="2219.8" r="5.2"/>
<circle cx="1210.53" cy="2221.12" r="5.2"/>
<circle cx="1215.52" cy="2222.43" r="5.2"/>
<circle cx="1220.52" cy="2224.27" r="5.2"/>
<circle cx="1225.52" cy="2226.38" r="5.2"/>
<circle cx="1230.51" cy="2228.22" r="5.2"/>
<circle cx="1235.51" cy="2229.53" r="5.2"/>
<circle cx="1240.51" cy="2230.85" r="5.2"/>
<circle cx="1245.5" cy="2231.64" r="5.2"/>
<circle cx="1250.5" cy="2234.59" r="5.2"/>
<circle cx="1255.5" cy="2236.22" r="5.2"/>
<circle cx="1260.5" cy="2237.53" r="5.2"/>
<circle cx="1265.5" cy="2238.81" r="5.2"/>
<circle cx="1270.5" cy="2239.92" r="5.2"/>
<circle cx="1275.5" cy="2240.92" r="5.2"/>
<circle cx="1280.49" cy="2241.82" r="5.2"/>
<circle cx="1285.49" cy="2242.5" r="5.2"/>
<circle cx="1290.49" cy="2243.19" r="5.2"/>
<circle cx="1295.49" cy="2243.87" r="5.2"/>
<circle cx="1300.49" cy="2244.56" r="5.2"/>
<circle cx="1305.49" cy="2245" r="5.2"/>
<circle cx="1310.49" cy="2245.37" r="5.2"/>
<circle cx="1315.49" cy="2245.73" r="5.2"/>
<circle cx="1320.48" cy="2246.1" r="5.2"/>
<circle cx="1325.48" cy="2246.42" r="5.2"/>
<circle cx="1330.48" cy="2246.46" r="5.2"/>
<circle cx="1335.48" cy="2246.51" r="5.2"/>
<circle cx="1340.48" cy="2246.55" r="5.2"/>
<circle cx="1345.48" cy="2246.6" r="5.2"/>
<circle cx="1350.48" cy="2246.39" r="5.2"/>
<circle cx="1355.48" cy="2245.99" r="5.2"/>
<circle cx="1360.47" cy="2245.59" r="5.2"/>
<circle cx="1365.47" cy="2245.19" r="5.2"/>
<circle cx="1370.47" cy="2244.78" r="5.2"/>
<circle cx="1375.47" cy="2244.34" r="5.2"/>
<circle cx="1380.47" cy="2243.89" r="5.2"/>
<circle cx="1385.47" cy="2243.43" r="5.2"/>
<circle cx="1390.47" cy="2242.98" r="5.2"/>
<circle cx="1395.46" cy="2242.48" r="5.2"/>
<circle cx="1400.46" cy="2241.81" r="5.2"/>
<circle cx="1405.46" cy="2241.14" r="5.2"/>
<circle cx="1410.46" cy="2240.47" r="5.2"/>
<circle cx="1415.46" cy="2239.8" r="5.2"/>
<circle cx="1420.46" cy="2239.09" r="5.2"/>
<circle cx="1425.46" cy="2238.36" r="5.2"/>
<circle cx="1430.46" cy="2237.83" r="5.2"/>
<circle cx="1435.45" cy="2237.47" r="5.2"/>
<circle cx="1440.45" cy="2237.3" r="5.2"/>
<circle cx="1445.45" cy="2237.85" r="5.2"/>
<circle cx="1450.45" cy="2238.39" r="5.2"/>
<circle cx="1455.45" cy="2239.26" r="5.2"/>
<circle cx="1460.45" cy="2240.16" r="5.2"/>
<circle cx="1465.45" cy="2241.08" r="5.2"/>
<circle cx="1470.45" cy="2242.01" r="5.2"/>
<circle cx="1475.44" cy="2242.94" r="5.2"/>
<circle cx="1480.44" cy="2243.87" r="5.2"/>
<circle cx="1485.44" cy="2244.78" r="5.2"/>
<circle cx="1490.44" cy="2245.41" r="5.2"/>
<circle cx="1495.44" cy="2246.04" r="5.2"/>
<circle cx="1500.44" cy="2246.68" r="5.2"/>
<circle cx="1505.44" cy="2247.31" r="5.2"/>
<circle cx="1510.44" cy="2247.89" r="5.2"/>
<circle cx="1515.43" cy="2248.4" r="5.2"/>
</g>
<path d="M998.55 1805.25V1828.13M995.15 1805.25h6.8M995.15 1828.13h6.8M1003.81 1778.04V1833.26M1000.41 1778.04h6.8M1000.41 1833.26h6.8M1008.81 1762.39V1810.51M1005.41 1762.39h6.8M1005.41 1810.51h6.8M1013.81 1750.82V1781.59M1010.41 1750.82h6.8M1010.41 1781.59h6.8M1018.8 1731.1V1802.89M1015.4 1731.1h6.8M1015.4 1802.89h6.8M1023.8 1810.38V1838.78M1020.4 1810.38h6.8M1020.4 1838.78h6.8M1028.8 1807.62V1837.86M1025.4 1807.62h6.8M1025.4 1837.86h6.8M1034.06 1840.75V1862.58M1030.66 1840.75h6.8M1030.66 1862.58h6.8M1039.05 1850.22V1886.24M1035.65 1850.22h6.8M1035.65 1886.24h6.8M1044.05 1895.45V1912.01M1040.65 1895.45h6.8M1040.65 1912.01h6.8M1064.56 2038.5V2055.59M1061.16 2038.5h6.8M1061.16 2055.59h6.8M1080.08 2100.42V2115.67M1076.68 2100.42h6.8M1076.68 2115.67h6.8" stroke="#FF0000" stroke-width="1.2" fill="none"/>
<g fill="#FF0000">
<circle cx="998.55" cy="1816.69" r="5.2"/>
<circle cx="1003.81" cy="1805.65" r="5.2"/>
<circle cx="1008.81" cy="1786.45" r="5.2"/>
<circle cx="1013.81" cy="1766.2" r="5.2"/>
<circle cx="1018.8" cy="1766.99" r="5.2"/>
<circle cx="1023.8" cy="1824.58" r="5.2"/>
<circle cx="1028.8" cy="1822.74" r="5.2"/>
<circle cx="1034.06" cy="1851.67" r="5.2"/>
<circle cx="1039.05" cy="1868.23" r="5.2"/>
<circle cx="1044.05" cy="1903.73" r="5.2"/>
<circle cx="1049.05" cy="1953.69" r="5.2"/>
<circle cx="1054.31" cy="1987.61" r="5.2"/>
<circle cx="1059.57" cy="2010.75" r="5.2"/>
<circle cx="1064.56" cy="2047.04" r="5.2"/>
<circle cx="1069.82" cy="2071.23" r="5.2"/>
<circle cx="1074.82" cy="2088.59" r="5.2"/>
<circle cx="1080.08" cy="2108.05" r="5.2"/>
<circle cx="1085.08" cy="2121.72" r="5.2"/>
<circle cx="1090.07" cy="2140.13" r="5.2"/>
<circle cx="1095.33" cy="2152.22" r="5.2"/>
<circle cx="1100.33" cy="2160.11" r="5.2"/>
<circle cx="1105.33" cy="2175.1" r="5.2"/>
<circle cx="1110.32" cy="2183.78" r="5.2"/>
<circle cx="1115.32" cy="2189.56" r="5.2"/>
<circle cx="1120.32" cy="2200.08" r="5.2"/>
<circle cx="1125.32" cy="2207.97" r="5.2"/>
<circle cx="1130.31" cy="2206.13" r="5.2"/>
<circle cx="1135.31" cy="2211.92" r="5.2"/>
<circle cx="1140.31" cy="2216.39" r="5.2"/>
<circle cx="1145.3" cy="2220.33" r="5.2"/>
<circle cx="1150.3" cy="2220.33" r="5.2"/>
<circle cx="1155.3" cy="2221.65" r="5.2"/>
<circle cx="1160.29" cy="2222.43" r="5.2"/>
<circle cx="1165.55" cy="2225.85" r="5.2"/>
<circle cx="1170.55" cy="2230.32" r="5.2"/>
<circle cx="1175.55" cy="2229.8" r="5.2"/>
<circle cx="1180.54" cy="2230.32" r="5.2"/>
<circle cx="1185.54" cy="2231.64" r="5.2"/>
<circle cx="1190.54" cy="2232.95" r="5.2"/>
<circle cx="1195.53" cy="2233.74" r="5.2"/>
<circle cx="1200.53" cy="2237.1" r="5.2"/>
<circle cx="1205.53" cy="2237.53" r="5.2"/>
<circle cx="1210.53" cy="2237.96" r="5.2"/>
<circle cx="1215.53" cy="2238.47" r="5.2"/>
<circle cx="1220.53" cy="2238.97" r="5.2"/>
<circle cx="1225.53" cy="2239.48" r="5.2"/>
<circle cx="1230.53" cy="2239.98" r="5.2"/>
<circle cx="1235.52" cy="2240.63" r="5.2"/>
<circle cx="1240.52" cy="2241.38" r="5.2"/>
<circle cx="1245.52" cy="2242.13" r="5.2"/>
<circle cx="1250.52" cy="2242.88" r="5.2"/>
<circle cx="1255.52" cy="2243.63" r="5.2"/>
<circle cx="1260.52" cy="2244.24" r="5.2"/>
<circle cx="1265.52" cy="2244.83" r="5.2"/>
<circle cx="1270.52" cy="2245.43" r="5.2"/>
<circle cx="1275.51" cy="2246.03" r="5.2"/>
<circle cx="1280.51" cy="2246.55" r="5.2"/>
<circle cx="1285.51" cy="2246.94" r="5.2"/>
<circle cx="1290.51" cy="2247.34" r="5.2"/>
<circle cx="1295.51" cy="2247.73" r="5.2"/>
<circle cx="1300.51" cy="2248.13" r="5.2"/>
<circle cx="1305.51" cy="2248.3" r="5.2"/>
<circle cx="1310.51" cy="2248.41" r="5.2"/>
<circle cx="1315.5" cy="2248.52" r="5.2"/>
<circle cx="1320.5" cy="2248.63" r="5.2"/>
<circle cx="1325.5" cy="2248.66" r="5.2"/>
<circle cx="1330.5" cy="2248.47" r="5.2"/>
<circle cx="1335.5" cy="2248.27" r="5.2"/>
<circle cx="1340.5" cy="2248.07" r="5.2"/>
<circle cx="1345.5" cy="2247.88" r="5.2"/>
<circle cx="1350.49" cy="2247.57" r="5.2"/>
<circle cx="1355.49" cy="2247.17" r="5.2"/>
<circle cx="1360.49" cy="2246.78" r="5.2"/>
<circle cx="1365.49" cy="2246.39" r="5.2"/>
<circle cx="1370.49" cy="2245.99" r="5.2"/>
<circle cx="1375.49" cy="2245.58" r="5.2"/>
<circle cx="1380.49" cy="2245.18" r="5.2"/>
<circle cx="1385.49" cy="2244.77" r="5.2"/>
<circle cx="1390.48" cy="2244.36" r="5.2"/>
<circle cx="1395.48" cy="2243.88" r="5.2"/>
<circle cx="1400.48" cy="2243.28" r="5.2"/>
<circle cx="1405.48" cy="2242.68" r="5.2"/>
<circle cx="1410.48" cy="2242.07" r="5.2"/>
<circle cx="1415.48" cy="2241.47" r="5.2"/>
<circle cx="1420.48" cy="2240.92" r="5.2"/>
<circle cx="1425.48" cy="2240.37" r="5.2"/>
<circle cx="1430.47" cy="2240.04" r="5.2"/>
<circle cx="1435.47" cy="2239.9" r="5.2"/>
<circle cx="1440.47" cy="2239.87" r="5.2"/>
<circle cx="1445.47" cy="2240.27" r="5.2"/>
<circle cx="1450.47" cy="2240.67" r="5.2"/>
<circle cx="1455.47" cy="2241.41" r="5.2"/>
<circle cx="1460.47" cy="2242.19" r="5.2"/>
<circle cx="1465.47" cy="2242.96" r="5.2"/>
<circle cx="1470.46" cy="2243.73" r="5.2"/>
<circle cx="1475.46" cy="2244.5" r="5.2"/>
<circle cx="1480.46" cy="2245.28" r="5.2"/>
<circle cx="1485.46" cy="2246.03" r="5.2"/>
<circle cx="1490.46" cy="2246.62" r="5.2"/>
<circle cx="1495.46" cy="2247.21" r="5.2"/>
<circle cx="1500.46" cy="2247.8" r="5.2"/>
<circle cx="1505.46" cy="2248.39" r="5.2"/>
<circle cx="1510.45" cy="2248.95" r="5.2"/>
<circle cx="1515.45" cy="2249.49" r="5.2"/>
</g>
<text transform="translate(857 1948) rotate(-90) scale(1 1.02)" font-size="33.7" text-anchor="middle"><tspan font-style="italic">I</tspan>(0)</text>
<text transform="translate(821.5 1663.2) scale(1 1)" font-size="59" fill="#000000" text-anchor="start">f</text>
<path d="M1023.1 1772.3V1812.9M1014.6 1799.6L1023.1 1812.9L1031.6 1799.6" stroke="#FF0000" stroke-width="2.9" fill="none" stroke-linejoin="miter" stroke-miterlimit="10"/>
<path d="M1033.4 1768.3V1809.5M1024.9 1796.2L1033.4 1809.5L1041.9 1796.2" stroke="#000000" stroke-width="2.9" fill="none" stroke-linejoin="miter" stroke-miterlimit="10"/>
<text transform="translate(1050 1793.7) scale(1 1.041)" font-size="36.8" fill="#000000" text-anchor="start">MP1</text>
<text transform="translate(1309.6 2169.4) scale(1 1.041)" font-size="36.8" fill="#000000" text-anchor="start">MP3</text>
<path d="M1362.7 2184V2224.9M1354.2 2211.6L1362.7 2224.9L1371.2 2211.6" stroke="#000000" stroke-width="2.9" fill="none" stroke-linejoin="miter" stroke-miterlimit="10"/>
<text transform="translate(1427.3 2163) scale(1 1.041)" font-size="36.8" fill="#000000" text-anchor="start">MP2</text>
<path d="M1439.6 2178.7V2219.4M1431.1 2206.1L1439.6 2219.4L1448.1 2206.1" stroke="#000000" stroke-width="2.9" fill="none" stroke-linejoin="miter" stroke-miterlimit="10"/>
<circle cx="1274.1" cy="1708.6" r="5.2" fill="#000"/>
<text transform="translate(1309.6 1722.2) scale(1 1.02)" font-size="34" fill="#000000" text-anchor="start">Whole egg</text>
<circle cx="1274.1" cy="1757.1" r="5.2" fill="#FF0000"/>
<text transform="translate(1309.1 1770.8) scale(1 1.02)" font-size="34" fill="#FF0000" text-anchor="start">PF whole egg</text>
</g>
</svg></body></html>
